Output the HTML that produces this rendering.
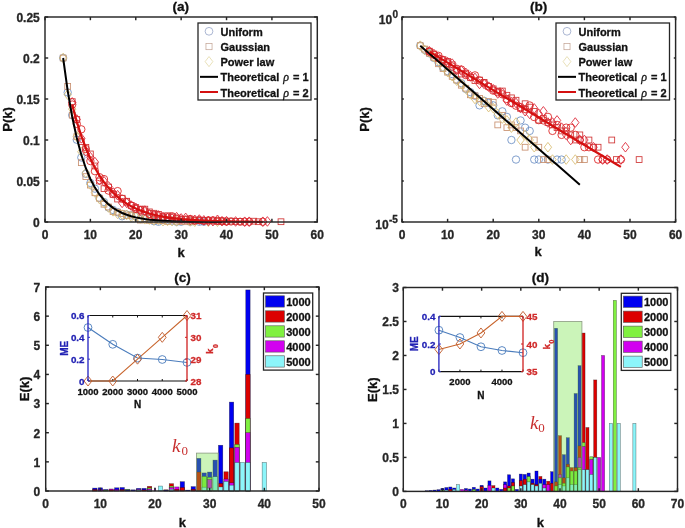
<!DOCTYPE html>
<html><head><meta charset="utf-8"><style>
html,body{margin:0;padding:0;background:#fff;width:685px;height:528px;overflow:hidden}
svg{display:block;will-change:transform}
</style></head><body>
<svg width="685" height="528" viewBox="0 0 685 528">
<rect width="685" height="528" fill="#fff"/>
<circle cx="63.15" cy="58" r="3.7" fill="none" stroke="#6b8fc4" stroke-width="0.85"/>
<circle cx="67.69" cy="92.44" r="3.7" fill="none" stroke="#6b8fc4" stroke-width="0.85"/>
<circle cx="72.23" cy="115.13" r="3.7" fill="none" stroke="#6b8fc4" stroke-width="0.85"/>
<circle cx="76.77" cy="139.73" r="3.7" fill="none" stroke="#6b8fc4" stroke-width="0.85"/>
<circle cx="81.31" cy="157.49" r="3.7" fill="none" stroke="#6b8fc4" stroke-width="0.85"/>
<circle cx="85.84" cy="173.89" r="3.7" fill="none" stroke="#6b8fc4" stroke-width="0.85"/>
<circle cx="90.38" cy="182.91" r="3.7" fill="none" stroke="#6b8fc4" stroke-width="0.85"/>
<circle cx="94.92" cy="188.65" r="3.7" fill="none" stroke="#6b8fc4" stroke-width="0.85"/>
<circle cx="99.46" cy="197.95" r="3.7" fill="none" stroke="#6b8fc4" stroke-width="0.85"/>
<circle cx="104" cy="202.05" r="3.7" fill="none" stroke="#6b8fc4" stroke-width="0.85"/>
<circle cx="108.54" cy="207.51" r="3.7" fill="none" stroke="#6b8fc4" stroke-width="0.85"/>
<circle cx="113.08" cy="209.97" r="3.7" fill="none" stroke="#6b8fc4" stroke-width="0.85"/>
<circle cx="117.61" cy="212.16" r="3.7" fill="none" stroke="#6b8fc4" stroke-width="0.85"/>
<circle cx="122.15" cy="216.26" r="3.7" fill="none" stroke="#6b8fc4" stroke-width="0.85"/>
<circle cx="126.69" cy="214.62" r="3.7" fill="none" stroke="#6b8fc4" stroke-width="0.85"/>
<circle cx="131.23" cy="215.44" r="3.7" fill="none" stroke="#6b8fc4" stroke-width="0.85"/>
<circle cx="135.77" cy="216.26" r="3.7" fill="none" stroke="#6b8fc4" stroke-width="0.85"/>
<circle cx="140.31" cy="218.72" r="3.7" fill="none" stroke="#6b8fc4" stroke-width="0.85"/>
<circle cx="144.84" cy="217.9" r="3.7" fill="none" stroke="#6b8fc4" stroke-width="0.85"/>
<circle cx="149.38" cy="218.99" r="3.7" fill="none" stroke="#6b8fc4" stroke-width="0.85"/>
<circle cx="153.92" cy="221.18" r="3.7" fill="none" stroke="#6b8fc4" stroke-width="0.85"/>
<circle cx="158.46" cy="221.73" r="3.7" fill="none" stroke="#6b8fc4" stroke-width="0.85"/>
<circle cx="163" cy="219.54" r="3.7" fill="none" stroke="#6b8fc4" stroke-width="0.85"/>
<circle cx="167.54" cy="220.36" r="3.7" fill="none" stroke="#6b8fc4" stroke-width="0.85"/>
<circle cx="172.07" cy="220.63" r="3.7" fill="none" stroke="#6b8fc4" stroke-width="0.85"/>
<circle cx="176.61" cy="221.73" r="3.7" fill="none" stroke="#6b8fc4" stroke-width="0.85"/>
<circle cx="181.15" cy="221.73" r="3.7" fill="none" stroke="#6b8fc4" stroke-width="0.85"/>
<circle cx="190.23" cy="221.73" r="3.7" fill="none" stroke="#6b8fc4" stroke-width="0.85"/>
<circle cx="199.3" cy="221.73" r="3.7" fill="none" stroke="#6b8fc4" stroke-width="0.85"/>
<circle cx="203.84" cy="221.73" r="3.7" fill="none" stroke="#6b8fc4" stroke-width="0.85"/>
<rect x="60.25" y="55.1" width="5.8" height="5.8" fill="none" stroke="#c89070" stroke-width="0.85"/>
<rect x="64.79" y="83.53" width="5.8" height="5.8" fill="none" stroke="#c89070" stroke-width="0.85"/>
<rect x="69.33" y="112.23" width="5.8" height="5.8" fill="none" stroke="#c89070" stroke-width="0.85"/>
<rect x="73.87" y="133.82" width="5.8" height="5.8" fill="none" stroke="#c89070" stroke-width="0.85"/>
<rect x="78.41" y="159.79" width="5.8" height="5.8" fill="none" stroke="#c89070" stroke-width="0.85"/>
<rect x="82.94" y="173.73" width="5.8" height="5.8" fill="none" stroke="#c89070" stroke-width="0.85"/>
<rect x="87.48" y="182.2" width="5.8" height="5.8" fill="none" stroke="#c89070" stroke-width="0.85"/>
<rect x="92.02" y="189.85" width="5.8" height="5.8" fill="none" stroke="#c89070" stroke-width="0.85"/>
<rect x="96.56" y="195.32" width="5.8" height="5.8" fill="none" stroke="#c89070" stroke-width="0.85"/>
<rect x="101.1" y="201.33" width="5.8" height="5.8" fill="none" stroke="#c89070" stroke-width="0.85"/>
<rect x="105.64" y="204.07" width="5.8" height="5.8" fill="none" stroke="#c89070" stroke-width="0.85"/>
<rect x="110.17" y="208.71" width="5.8" height="5.8" fill="none" stroke="#c89070" stroke-width="0.85"/>
<rect x="114.71" y="209.26" width="5.8" height="5.8" fill="none" stroke="#c89070" stroke-width="0.85"/>
<rect x="119.25" y="210.63" width="5.8" height="5.8" fill="none" stroke="#c89070" stroke-width="0.85"/>
<rect x="123.79" y="212.81" width="5.8" height="5.8" fill="none" stroke="#c89070" stroke-width="0.85"/>
<rect x="128.33" y="211.99" width="5.8" height="5.8" fill="none" stroke="#c89070" stroke-width="0.85"/>
<rect x="132.87" y="212.27" width="5.8" height="5.8" fill="none" stroke="#c89070" stroke-width="0.85"/>
<rect x="137.41" y="217.19" width="5.8" height="5.8" fill="none" stroke="#c89070" stroke-width="0.85"/>
<rect x="141.94" y="215.82" width="5.8" height="5.8" fill="none" stroke="#c89070" stroke-width="0.85"/>
<rect x="146.48" y="217.46" width="5.8" height="5.8" fill="none" stroke="#c89070" stroke-width="0.85"/>
<rect x="151.02" y="217.19" width="5.8" height="5.8" fill="none" stroke="#c89070" stroke-width="0.85"/>
<rect x="155.56" y="217.46" width="5.8" height="5.8" fill="none" stroke="#c89070" stroke-width="0.85"/>
<rect x="160.1" y="217.73" width="5.8" height="5.8" fill="none" stroke="#c89070" stroke-width="0.85"/>
<rect x="164.64" y="218.55" width="5.8" height="5.8" fill="none" stroke="#c89070" stroke-width="0.85"/>
<rect x="173.71" y="218.28" width="5.8" height="5.8" fill="none" stroke="#c89070" stroke-width="0.85"/>
<rect x="178.25" y="218.55" width="5.8" height="5.8" fill="none" stroke="#c89070" stroke-width="0.85"/>
<rect x="182.79" y="218.83" width="5.8" height="5.8" fill="none" stroke="#c89070" stroke-width="0.85"/>
<rect x="187.33" y="218.83" width="5.8" height="5.8" fill="none" stroke="#c89070" stroke-width="0.85"/>
<rect x="219.09" y="218.83" width="5.8" height="5.8" fill="none" stroke="#c89070" stroke-width="0.85"/>
<rect x="223.63" y="218.83" width="5.8" height="5.8" fill="none" stroke="#c89070" stroke-width="0.85"/>
<path d="M63.15 53.2L66.85 58L63.15 62.8L59.45 58Z" fill="none" stroke="#d8bc70" stroke-width="0.85"/>
<path d="M67.69 89.83L71.39 94.63L67.69 99.43L63.99 94.63Z" fill="none" stroke="#d8bc70" stroke-width="0.85"/>
<path d="M72.23 104.31L75.93 109.11L72.23 113.91L68.53 109.11Z" fill="none" stroke="#d8bc70" stroke-width="0.85"/>
<path d="M76.77 131.65L80.47 136.45L76.77 141.25L73.07 136.45Z" fill="none" stroke="#d8bc70" stroke-width="0.85"/>
<path d="M81.31 146.95L85.01 151.75L81.31 156.55L77.61 151.75Z" fill="none" stroke="#d8bc70" stroke-width="0.85"/>
<path d="M85.84 168L89.55 172.8L85.84 177.6L82.14 172.8Z" fill="none" stroke="#d8bc70" stroke-width="0.85"/>
<path d="M90.38 179.75L94.08 184.55L90.38 189.35L86.68 184.55Z" fill="none" stroke="#d8bc70" stroke-width="0.85"/>
<path d="M94.92 187.68L98.62 192.48L94.92 197.28L91.22 192.48Z" fill="none" stroke="#d8bc70" stroke-width="0.85"/>
<path d="M99.46 194.24L103.16 199.04L99.46 203.84L95.76 199.04Z" fill="none" stroke="#d8bc70" stroke-width="0.85"/>
<path d="M104 198.07L107.7 202.87L104 207.67L100.3 202.87Z" fill="none" stroke="#d8bc70" stroke-width="0.85"/>
<path d="M108.54 202.71L112.24 207.51L108.54 212.31L104.84 207.51Z" fill="none" stroke="#d8bc70" stroke-width="0.85"/>
<path d="M113.08 206.54L116.78 211.34L113.08 216.14L109.38 211.34Z" fill="none" stroke="#d8bc70" stroke-width="0.85"/>
<path d="M117.61 209L121.31 213.8L117.61 218.6L113.91 213.8Z" fill="none" stroke="#d8bc70" stroke-width="0.85"/>
<path d="M122.15 209.82L125.85 214.62L122.15 219.42L118.45 214.62Z" fill="none" stroke="#d8bc70" stroke-width="0.85"/>
<path d="M126.69 210.09L130.39 214.89L126.69 219.69L122.99 214.89Z" fill="none" stroke="#d8bc70" stroke-width="0.85"/>
<path d="M131.23 212.01L134.93 216.81L131.23 221.61L127.53 216.81Z" fill="none" stroke="#d8bc70" stroke-width="0.85"/>
<path d="M135.77 212.28L139.47 217.08L135.77 221.88L132.07 217.08Z" fill="none" stroke="#d8bc70" stroke-width="0.85"/>
<path d="M140.31 213.65L144 218.45L140.31 223.25L136.61 218.45Z" fill="none" stroke="#d8bc70" stroke-width="0.85"/>
<path d="M144.84 214.47L148.54 219.27L144.84 224.07L141.14 219.27Z" fill="none" stroke="#d8bc70" stroke-width="0.85"/>
<path d="M149.38 214.74L153.08 219.54L149.38 224.34L145.68 219.54Z" fill="none" stroke="#d8bc70" stroke-width="0.85"/>
<path d="M153.92 215.56L157.62 220.36L153.92 225.16L150.22 220.36Z" fill="none" stroke="#d8bc70" stroke-width="0.85"/>
<path d="M158.46 215.01L162.16 219.81L158.46 224.61L154.76 219.81Z" fill="none" stroke="#d8bc70" stroke-width="0.85"/>
<path d="M163 216.38L166.7 221.18L163 225.98L159.3 221.18Z" fill="none" stroke="#d8bc70" stroke-width="0.85"/>
<path d="M167.54 216.11L171.24 220.91L167.54 225.71L163.84 220.91Z" fill="none" stroke="#d8bc70" stroke-width="0.85"/>
<path d="M172.07 216.38L175.77 221.18L172.07 225.98L168.37 221.18Z" fill="none" stroke="#d8bc70" stroke-width="0.85"/>
<path d="M176.61 216.65L180.31 221.45L176.61 226.25L172.91 221.45Z" fill="none" stroke="#d8bc70" stroke-width="0.85"/>
<path d="M190.23 216.65L193.93 221.45L190.23 226.25L186.53 221.45Z" fill="none" stroke="#d8bc70" stroke-width="0.85"/>
<path d="M194.77 216.93L198.47 221.73L194.77 226.53L191.07 221.73Z" fill="none" stroke="#d8bc70" stroke-width="0.85"/>
<path d="M208.38 216.93L212.08 221.73L208.38 226.53L204.68 221.73Z" fill="none" stroke="#d8bc70" stroke-width="0.85"/>
<path d="M217.46 216.93L221.16 221.73L217.46 226.53L213.76 221.73Z" fill="none" stroke="#d8bc70" stroke-width="0.85"/>
<circle cx="72.23" cy="104.55" r="3.7" fill="none" stroke="#dc1c1c" stroke-width="0.85"/>
<circle cx="76.77" cy="123.87" r="3.7" fill="none" stroke="#dc1c1c" stroke-width="0.85"/>
<circle cx="81.31" cy="129.34" r="3.7" fill="none" stroke="#dc1c1c" stroke-width="0.85"/>
<circle cx="85.84" cy="149.02" r="3.7" fill="none" stroke="#dc1c1c" stroke-width="0.85"/>
<circle cx="90.38" cy="161.05" r="3.7" fill="none" stroke="#dc1c1c" stroke-width="0.85"/>
<circle cx="94.92" cy="171.16" r="3.7" fill="none" stroke="#dc1c1c" stroke-width="0.85"/>
<circle cx="99.46" cy="177.17" r="3.7" fill="none" stroke="#dc1c1c" stroke-width="0.85"/>
<circle cx="104" cy="179.09" r="3.7" fill="none" stroke="#dc1c1c" stroke-width="0.85"/>
<circle cx="108.54" cy="190.57" r="3.7" fill="none" stroke="#dc1c1c" stroke-width="0.85"/>
<circle cx="113.08" cy="194.12" r="3.7" fill="none" stroke="#dc1c1c" stroke-width="0.85"/>
<circle cx="117.61" cy="191.11" r="3.7" fill="none" stroke="#dc1c1c" stroke-width="0.85"/>
<circle cx="122.15" cy="198.77" r="3.7" fill="none" stroke="#dc1c1c" stroke-width="0.85"/>
<circle cx="126.69" cy="202.05" r="3.7" fill="none" stroke="#dc1c1c" stroke-width="0.85"/>
<circle cx="131.23" cy="205.6" r="3.7" fill="none" stroke="#dc1c1c" stroke-width="0.85"/>
<circle cx="135.77" cy="208.88" r="3.7" fill="none" stroke="#dc1c1c" stroke-width="0.85"/>
<circle cx="140.31" cy="209.97" r="3.7" fill="none" stroke="#dc1c1c" stroke-width="0.85"/>
<circle cx="144.84" cy="211.34" r="3.7" fill="none" stroke="#dc1c1c" stroke-width="0.85"/>
<circle cx="149.38" cy="213.8" r="3.7" fill="none" stroke="#dc1c1c" stroke-width="0.85"/>
<circle cx="153.92" cy="215.49" r="3.7" fill="none" stroke="#dc1c1c" stroke-width="0.85"/>
<circle cx="158.46" cy="216.37" r="3.7" fill="none" stroke="#dc1c1c" stroke-width="0.85"/>
<circle cx="163" cy="216.81" r="3.7" fill="none" stroke="#dc1c1c" stroke-width="0.85"/>
<circle cx="167.54" cy="217.35" r="3.7" fill="none" stroke="#dc1c1c" stroke-width="0.85"/>
<circle cx="172.07" cy="216.29" r="3.7" fill="none" stroke="#dc1c1c" stroke-width="0.85"/>
<circle cx="176.61" cy="219.03" r="3.7" fill="none" stroke="#dc1c1c" stroke-width="0.85"/>
<circle cx="181.15" cy="219.5" r="3.7" fill="none" stroke="#dc1c1c" stroke-width="0.85"/>
<circle cx="185.69" cy="219.54" r="3.7" fill="none" stroke="#dc1c1c" stroke-width="0.85"/>
<circle cx="190.23" cy="218.99" r="3.7" fill="none" stroke="#dc1c1c" stroke-width="0.85"/>
<circle cx="194.77" cy="220.63" r="3.7" fill="none" stroke="#dc1c1c" stroke-width="0.85"/>
<circle cx="199.3" cy="220.09" r="3.7" fill="none" stroke="#dc1c1c" stroke-width="0.85"/>
<circle cx="203.84" cy="220.91" r="3.7" fill="none" stroke="#dc1c1c" stroke-width="0.85"/>
<circle cx="208.38" cy="220.36" r="3.7" fill="none" stroke="#dc1c1c" stroke-width="0.85"/>
<circle cx="212.92" cy="220.36" r="3.7" fill="none" stroke="#dc1c1c" stroke-width="0.85"/>
<circle cx="217.46" cy="220.91" r="3.7" fill="none" stroke="#dc1c1c" stroke-width="0.85"/>
<circle cx="222" cy="221.18" r="3.7" fill="none" stroke="#dc1c1c" stroke-width="0.85"/>
<circle cx="226.53" cy="221.45" r="3.7" fill="none" stroke="#dc1c1c" stroke-width="0.85"/>
<circle cx="231.07" cy="221.45" r="3.7" fill="none" stroke="#dc1c1c" stroke-width="0.85"/>
<circle cx="240.15" cy="221.73" r="3.7" fill="none" stroke="#dc1c1c" stroke-width="0.85"/>
<circle cx="244.69" cy="221.73" r="3.7" fill="none" stroke="#dc1c1c" stroke-width="0.85"/>
<circle cx="249.23" cy="221.73" r="3.7" fill="none" stroke="#dc1c1c" stroke-width="0.85"/>
<circle cx="262.84" cy="221.73" r="3.7" fill="none" stroke="#dc1c1c" stroke-width="0.85"/>
<rect x="69.33" y="98.77" width="5.8" height="5.8" fill="none" stroke="#d03434" stroke-width="0.85"/>
<rect x="73.87" y="116.6" width="5.8" height="5.8" fill="none" stroke="#d03434" stroke-width="0.85"/>
<rect x="78.41" y="138.74" width="5.8" height="5.8" fill="none" stroke="#d03434" stroke-width="0.85"/>
<rect x="82.94" y="144.48" width="5.8" height="5.8" fill="none" stroke="#d03434" stroke-width="0.85"/>
<rect x="87.48" y="151.04" width="5.8" height="5.8" fill="none" stroke="#d03434" stroke-width="0.85"/>
<rect x="92.02" y="163.07" width="5.8" height="5.8" fill="none" stroke="#d03434" stroke-width="0.85"/>
<rect x="96.56" y="178.1" width="5.8" height="5.8" fill="none" stroke="#d03434" stroke-width="0.85"/>
<rect x="101.1" y="185.75" width="5.8" height="5.8" fill="none" stroke="#d03434" stroke-width="0.85"/>
<rect x="105.64" y="184.11" width="5.8" height="5.8" fill="none" stroke="#d03434" stroke-width="0.85"/>
<rect x="110.17" y="191.49" width="5.8" height="5.8" fill="none" stroke="#d03434" stroke-width="0.85"/>
<rect x="114.71" y="196.14" width="5.8" height="5.8" fill="none" stroke="#d03434" stroke-width="0.85"/>
<rect x="119.25" y="195.32" width="5.8" height="5.8" fill="none" stroke="#d03434" stroke-width="0.85"/>
<rect x="123.79" y="198.33" width="5.8" height="5.8" fill="none" stroke="#d03434" stroke-width="0.85"/>
<rect x="128.33" y="202.43" width="5.8" height="5.8" fill="none" stroke="#d03434" stroke-width="0.85"/>
<rect x="132.87" y="204.61" width="5.8" height="5.8" fill="none" stroke="#d03434" stroke-width="0.85"/>
<rect x="137.41" y="206.25" width="5.8" height="5.8" fill="none" stroke="#d03434" stroke-width="0.85"/>
<rect x="141.94" y="206.25" width="5.8" height="5.8" fill="none" stroke="#d03434" stroke-width="0.85"/>
<rect x="146.48" y="208.99" width="5.8" height="5.8" fill="none" stroke="#d03434" stroke-width="0.85"/>
<rect x="151.02" y="210.35" width="5.8" height="5.8" fill="none" stroke="#d03434" stroke-width="0.85"/>
<rect x="155.56" y="211.45" width="5.8" height="5.8" fill="none" stroke="#d03434" stroke-width="0.85"/>
<rect x="160.1" y="214.26" width="5.8" height="5.8" fill="none" stroke="#d03434" stroke-width="0.85"/>
<rect x="164.64" y="212.81" width="5.8" height="5.8" fill="none" stroke="#d03434" stroke-width="0.85"/>
<rect x="169.17" y="213.91" width="5.8" height="5.8" fill="none" stroke="#d03434" stroke-width="0.85"/>
<rect x="173.71" y="215" width="5.8" height="5.8" fill="none" stroke="#d03434" stroke-width="0.85"/>
<rect x="178.25" y="216.6" width="5.8" height="5.8" fill="none" stroke="#d03434" stroke-width="0.85"/>
<rect x="182.79" y="216.37" width="5.8" height="5.8" fill="none" stroke="#d03434" stroke-width="0.85"/>
<rect x="187.33" y="216.91" width="5.8" height="5.8" fill="none" stroke="#d03434" stroke-width="0.85"/>
<rect x="191.87" y="217.19" width="5.8" height="5.8" fill="none" stroke="#d03434" stroke-width="0.85"/>
<rect x="196.4" y="217.46" width="5.8" height="5.8" fill="none" stroke="#d03434" stroke-width="0.85"/>
<rect x="200.94" y="217.73" width="5.8" height="5.8" fill="none" stroke="#d03434" stroke-width="0.85"/>
<rect x="205.48" y="217.73" width="5.8" height="5.8" fill="none" stroke="#d03434" stroke-width="0.85"/>
<rect x="210.02" y="218.01" width="5.8" height="5.8" fill="none" stroke="#d03434" stroke-width="0.85"/>
<rect x="214.56" y="218.28" width="5.8" height="5.8" fill="none" stroke="#d03434" stroke-width="0.85"/>
<rect x="219.09" y="218.01" width="5.8" height="5.8" fill="none" stroke="#d03434" stroke-width="0.85"/>
<rect x="228.17" y="218.28" width="5.8" height="5.8" fill="none" stroke="#d03434" stroke-width="0.85"/>
<rect x="232.71" y="218.55" width="5.8" height="5.8" fill="none" stroke="#d03434" stroke-width="0.85"/>
<rect x="237.25" y="218.55" width="5.8" height="5.8" fill="none" stroke="#d03434" stroke-width="0.85"/>
<rect x="250.86" y="218.28" width="5.8" height="5.8" fill="none" stroke="#d03434" stroke-width="0.85"/>
<rect x="255.4" y="218.83" width="5.8" height="5.8" fill="none" stroke="#d03434" stroke-width="0.85"/>
<rect x="278.09" y="218.83" width="5.8" height="5.8" fill="none" stroke="#d03434" stroke-width="0.85"/>
<path d="M72.23 97.6L75.93 102.4L72.23 107.2L68.53 102.4Z" fill="none" stroke="#dc2030" stroke-width="0.85"/>
<path d="M76.77 114.7L80.47 119.5L76.77 124.3L73.07 119.5Z" fill="none" stroke="#dc2030" stroke-width="0.85"/>
<path d="M81.31 133.56L85.01 138.36L81.31 143.16L77.61 138.36Z" fill="none" stroke="#dc2030" stroke-width="0.85"/>
<path d="M85.84 146.41L89.55 151.21L85.84 156.01L82.14 151.21Z" fill="none" stroke="#dc2030" stroke-width="0.85"/>
<path d="M90.38 152.42L94.08 157.22L90.38 162.02L86.68 157.22Z" fill="none" stroke="#dc2030" stroke-width="0.85"/>
<path d="M94.92 157.34L98.62 162.14L94.92 166.94L91.22 162.14Z" fill="none" stroke="#dc2030" stroke-width="0.85"/>
<path d="M99.46 175.38L103.16 180.18L99.46 184.98L95.76 180.18Z" fill="none" stroke="#dc2030" stroke-width="0.85"/>
<path d="M104 176.47L107.7 181.27L104 186.07L100.3 181.27Z" fill="none" stroke="#dc2030" stroke-width="0.85"/>
<path d="M108.54 181.67L112.24 186.47L108.54 191.27L104.84 186.47Z" fill="none" stroke="#dc2030" stroke-width="0.85"/>
<path d="M113.08 187.68L116.78 192.48L113.08 197.28L109.38 192.48Z" fill="none" stroke="#dc2030" stroke-width="0.85"/>
<path d="M117.61 190.41L121.31 195.21L117.61 200.01L113.91 195.21Z" fill="none" stroke="#dc2030" stroke-width="0.85"/>
<path d="M122.15 198.07L125.85 202.87L122.15 207.67L118.45 202.87Z" fill="none" stroke="#dc2030" stroke-width="0.85"/>
<path d="M126.69 198.07L130.39 202.87L126.69 207.67L122.99 202.87Z" fill="none" stroke="#dc2030" stroke-width="0.85"/>
<path d="M131.23 200.8L134.93 205.6L131.23 210.4L127.53 205.6Z" fill="none" stroke="#dc2030" stroke-width="0.85"/>
<path d="M135.77 202.99L139.47 207.79L135.77 212.59L132.07 207.79Z" fill="none" stroke="#dc2030" stroke-width="0.85"/>
<path d="M140.31 205.99L144 210.79L140.31 215.59L136.61 210.79Z" fill="none" stroke="#dc2030" stroke-width="0.85"/>
<path d="M144.84 205.72L148.54 210.52L144.84 215.32L141.14 210.52Z" fill="none" stroke="#dc2030" stroke-width="0.85"/>
<path d="M149.38 209.71L153.08 214.51L149.38 219.31L145.68 214.51Z" fill="none" stroke="#dc2030" stroke-width="0.85"/>
<path d="M153.92 210.37L157.62 215.17L153.92 219.97L150.22 215.17Z" fill="none" stroke="#dc2030" stroke-width="0.85"/>
<path d="M158.46 210.64L162.16 215.44L158.46 220.24L154.76 215.44Z" fill="none" stroke="#dc2030" stroke-width="0.85"/>
<path d="M163 212.28L166.7 217.08L163 221.88L159.3 217.08Z" fill="none" stroke="#dc2030" stroke-width="0.85"/>
<path d="M167.54 213.06L171.24 217.86L167.54 222.66L163.84 217.86Z" fill="none" stroke="#dc2030" stroke-width="0.85"/>
<path d="M172.07 213.65L175.77 218.45L172.07 223.25L168.37 218.45Z" fill="none" stroke="#dc2030" stroke-width="0.85"/>
<path d="M176.61 212.38L180.31 217.18L176.61 221.98L172.91 217.18Z" fill="none" stroke="#dc2030" stroke-width="0.85"/>
<path d="M181.15 213.65L184.85 218.45L181.15 223.25L177.45 218.45Z" fill="none" stroke="#dc2030" stroke-width="0.85"/>
<path d="M185.69 213.1L189.39 217.9L185.69 222.7L181.99 217.9Z" fill="none" stroke="#dc2030" stroke-width="0.85"/>
<path d="M190.23 215.01L193.93 219.81L190.23 224.61L186.53 219.81Z" fill="none" stroke="#dc2030" stroke-width="0.85"/>
<path d="M194.77 215.01L198.47 219.81L194.77 224.61L191.07 219.81Z" fill="none" stroke="#dc2030" stroke-width="0.85"/>
<path d="M199.3 214.74L203 219.54L199.3 224.34L195.6 219.54Z" fill="none" stroke="#dc2030" stroke-width="0.85"/>
<path d="M203.84 215.56L207.54 220.36L203.84 225.16L200.14 220.36Z" fill="none" stroke="#dc2030" stroke-width="0.85"/>
<path d="M208.38 216.11L212.08 220.91L208.38 225.71L204.68 220.91Z" fill="none" stroke="#dc2030" stroke-width="0.85"/>
<path d="M212.92 216.38L216.62 221.18L212.92 225.98L209.22 221.18Z" fill="none" stroke="#dc2030" stroke-width="0.85"/>
<path d="M217.46 215.01L221.16 219.81L217.46 224.61L213.76 219.81Z" fill="none" stroke="#dc2030" stroke-width="0.85"/>
<path d="M222 216.38L225.69 221.18L222 225.98L218.3 221.18Z" fill="none" stroke="#dc2030" stroke-width="0.85"/>
<path d="M226.53 216.38L230.23 221.18L226.53 225.98L222.83 221.18Z" fill="none" stroke="#dc2030" stroke-width="0.85"/>
<path d="M235.61 216.65L239.31 221.45L235.61 226.25L231.91 221.45Z" fill="none" stroke="#dc2030" stroke-width="0.85"/>
<path d="M244.69 216.93L248.39 221.73L244.69 226.53L240.99 221.73Z" fill="none" stroke="#dc2030" stroke-width="0.85"/>
<path d="M249.23 216.93L252.93 221.73L249.23 226.53L245.53 221.73Z" fill="none" stroke="#dc2030" stroke-width="0.85"/>
<path d="M262.84 216.93L266.54 221.73L262.84 226.53L259.14 221.73Z" fill="none" stroke="#dc2030" stroke-width="0.85"/>
<path d="M267.38 216.65L271.08 221.45L267.38 226.25L263.68 221.45Z" fill="none" stroke="#dc2030" stroke-width="0.85"/>
<path d="M63.15 58 L67.69 90.8 L72.23 117.04 L76.77 138.03 L81.31 154.83 L85.84 168.26 L90.38 179.01 L94.92 187.61 L99.46 194.49 L104 199.99 L108.54 204.39 L113.08 207.91 L117.61 210.73 L122.15 212.98 L126.69 214.79 L131.23 216.23 L135.77 217.38 L140.31 218.31 L144.84 219.05 L149.38 219.64 L153.92 220.11 L158.46 220.49 L163 220.79 L167.54 221.03 L172.07 221.23 L176.61 221.38 L181.15 221.5 L185.69 221.6 L190.23 221.68 L194.77 221.75 L199.3 221.8 L203.84 221.84 L208.38 221.87 L212.92 221.9 L217.46 221.92 L222 221.93" fill="none" stroke="#000" stroke-width="2"/>
<path d="M72.23 104.86 L76.77 121.59 L81.31 135.94 L85.84 148.23 L90.38 158.77 L94.92 167.8 L99.46 175.54 L104 182.18 L108.54 187.87 L113.08 192.75 L117.61 196.92 L122.15 200.51 L126.69 203.58 L131.23 206.21 L135.77 208.46 L140.31 210.4 L144.84 212.06 L149.38 213.48 L153.92 214.69 L158.46 215.74 L163 216.63 L167.54 217.4 L172.07 218.06 L176.61 218.62 L181.15 219.1 L185.69 219.52 L190.23 219.87 L194.77 220.18 L199.3 220.44 L203.84 220.66 L208.38 220.85 L212.92 221.02 L217.46 221.16 L222 221.28 L226.53 221.38 L231.07 221.47 L235.61 221.54 L240.15 221.61 L244.69 221.67 L249.23 221.71 L253.76 221.75 L258.3 221.79 L262.84 221.82" fill="none" stroke="#d41010" stroke-width="2.2"/>
<line x1="45" y1="222" x2="45" y2="218.8" stroke="#262626" stroke-width="1.45" />
<line x1="45" y1="17" x2="45" y2="20.2" stroke="#262626" stroke-width="1.45" />
<line x1="90.38" y1="222" x2="90.38" y2="218.8" stroke="#262626" stroke-width="1.45" />
<line x1="90.38" y1="17" x2="90.38" y2="20.2" stroke="#262626" stroke-width="1.45" />
<line x1="135.77" y1="222" x2="135.77" y2="218.8" stroke="#262626" stroke-width="1.45" />
<line x1="135.77" y1="17" x2="135.77" y2="20.2" stroke="#262626" stroke-width="1.45" />
<line x1="181.15" y1="222" x2="181.15" y2="218.8" stroke="#262626" stroke-width="1.45" />
<line x1="181.15" y1="17" x2="181.15" y2="20.2" stroke="#262626" stroke-width="1.45" />
<line x1="226.53" y1="222" x2="226.53" y2="218.8" stroke="#262626" stroke-width="1.45" />
<line x1="226.53" y1="17" x2="226.53" y2="20.2" stroke="#262626" stroke-width="1.45" />
<line x1="271.92" y1="222" x2="271.92" y2="218.8" stroke="#262626" stroke-width="1.45" />
<line x1="271.92" y1="17" x2="271.92" y2="20.2" stroke="#262626" stroke-width="1.45" />
<line x1="317.3" y1="222" x2="317.3" y2="218.8" stroke="#262626" stroke-width="1.45" />
<line x1="317.3" y1="17" x2="317.3" y2="20.2" stroke="#262626" stroke-width="1.45" />
<line x1="45" y1="222" x2="48.2" y2="222" stroke="#262626" stroke-width="1.45" />
<line x1="317.3" y1="222" x2="314.1" y2="222" stroke="#262626" stroke-width="1.45" />
<line x1="45" y1="181" x2="48.2" y2="181" stroke="#262626" stroke-width="1.45" />
<line x1="317.3" y1="181" x2="314.1" y2="181" stroke="#262626" stroke-width="1.45" />
<line x1="45" y1="140" x2="48.2" y2="140" stroke="#262626" stroke-width="1.45" />
<line x1="317.3" y1="140" x2="314.1" y2="140" stroke="#262626" stroke-width="1.45" />
<line x1="45" y1="99" x2="48.2" y2="99" stroke="#262626" stroke-width="1.45" />
<line x1="317.3" y1="99" x2="314.1" y2="99" stroke="#262626" stroke-width="1.45" />
<line x1="45" y1="58" x2="48.2" y2="58" stroke="#262626" stroke-width="1.45" />
<line x1="317.3" y1="58" x2="314.1" y2="58" stroke="#262626" stroke-width="1.45" />
<line x1="45" y1="17" x2="48.2" y2="17" stroke="#262626" stroke-width="1.45" />
<line x1="317.3" y1="17" x2="314.1" y2="17" stroke="#262626" stroke-width="1.45" />
<rect x="45" y="17" width="272.3" height="205" fill="none" stroke="#262626" stroke-width="1.45" />
<text x="45" y="238.8" font-size="12" text-anchor="middle" font-weight="bold" fill="#262626" stroke="#262626" stroke-width="0.3" font-family='"Liberation Sans", sans-serif' >0</text>
<text x="90.38" y="238.8" font-size="12" text-anchor="middle" font-weight="bold" fill="#262626" stroke="#262626" stroke-width="0.3" font-family='"Liberation Sans", sans-serif' >10</text>
<text x="135.77" y="238.8" font-size="12" text-anchor="middle" font-weight="bold" fill="#262626" stroke="#262626" stroke-width="0.3" font-family='"Liberation Sans", sans-serif' >20</text>
<text x="181.15" y="238.8" font-size="12" text-anchor="middle" font-weight="bold" fill="#262626" stroke="#262626" stroke-width="0.3" font-family='"Liberation Sans", sans-serif' >30</text>
<text x="226.53" y="238.8" font-size="12" text-anchor="middle" font-weight="bold" fill="#262626" stroke="#262626" stroke-width="0.3" font-family='"Liberation Sans", sans-serif' >40</text>
<text x="271.92" y="238.8" font-size="12" text-anchor="middle" font-weight="bold" fill="#262626" stroke="#262626" stroke-width="0.3" font-family='"Liberation Sans", sans-serif' >50</text>
<text x="317.3" y="238.8" font-size="12" text-anchor="middle" font-weight="bold" fill="#262626" stroke="#262626" stroke-width="0.3" font-family='"Liberation Sans", sans-serif' >60</text>
<text x="39.8" y="227.1" font-size="12" text-anchor="end" font-weight="bold" fill="#262626" stroke="#262626" stroke-width="0.3" font-family='"Liberation Sans", sans-serif' >0</text>
<text x="39.8" y="186.1" font-size="12" text-anchor="end" font-weight="bold" fill="#262626" stroke="#262626" stroke-width="0.3" font-family='"Liberation Sans", sans-serif' >0.05</text>
<text x="39.8" y="145.1" font-size="12" text-anchor="end" font-weight="bold" fill="#262626" stroke="#262626" stroke-width="0.3" font-family='"Liberation Sans", sans-serif' >0.1</text>
<text x="39.8" y="104.1" font-size="12" text-anchor="end" font-weight="bold" fill="#262626" stroke="#262626" stroke-width="0.3" font-family='"Liberation Sans", sans-serif' >0.15</text>
<text x="39.8" y="63.1" font-size="12" text-anchor="end" font-weight="bold" fill="#262626" stroke="#262626" stroke-width="0.3" font-family='"Liberation Sans", sans-serif' >0.2</text>
<text x="39.8" y="22.1" font-size="12" text-anchor="end" font-weight="bold" fill="#262626" stroke="#262626" stroke-width="0.3" font-family='"Liberation Sans", sans-serif' >0.25</text>
<text x="180.8" y="11.3" font-size="13.6" text-anchor="middle" font-weight="bold" fill="#111" stroke="#111" stroke-width="0.3" font-family='"Liberation Sans", sans-serif' >(a)</text>
<text x="181" y="256.8" font-size="13" text-anchor="middle" font-weight="bold" fill="#111" stroke="#111" stroke-width="0.3" font-family='"Liberation Sans", sans-serif' >k</text>
<text x="11.5" y="119.5" font-size="13" text-anchor="middle" font-weight="bold" fill="#111" stroke="#111" stroke-width="0.3" font-family='"Liberation Sans", sans-serif' transform="rotate(-90 11.5 119.5)">P(k)</text>
<rect x="198" y="23" width="113" height="77" fill="#fff" stroke="#262626" stroke-width="1.3" />
<circle cx="209" cy="31.3" r="3.89" fill="none" stroke="#8898c0" stroke-width="0.7"/>
<rect x="205.96" y="43.6" width="6.09" height="6.09" fill="none" stroke="#c0a090" stroke-width="0.7"/>
<path d="M209 56.56L212.88 61.6L209 66.64L205.12 61.6Z" fill="none" stroke="#e0d49c" stroke-width="0.7"/>
<text x="220.5" y="35.9" font-size="11" text-anchor="start" font-weight="bold" fill="#111" stroke="#111" stroke-width="0.3" font-family='"Liberation Sans", sans-serif' >Uniform</text>
<text x="220.5" y="51.05" font-size="11" text-anchor="start" font-weight="bold" fill="#111" stroke="#111" stroke-width="0.3" font-family='"Liberation Sans", sans-serif' >Gaussian</text>
<text x="220.5" y="66.2" font-size="11" text-anchor="start" font-weight="bold" fill="#111" stroke="#111" stroke-width="0.3" font-family='"Liberation Sans", sans-serif' >Power law</text>
<line x1="200" y1="76.85" x2="218" y2="76.85" stroke="#000" stroke-width="2" />
<text x="220.5" y="81.35" font-size="11" text-anchor="start" font-weight="bold" fill="#111" stroke="#111" stroke-width="0.3" font-family='"Liberation Sans", sans-serif' >Theoretical<tspan x="283.3" font-family='"Liberation Serif", serif' font-style="italic" font-weight="normal" font-size="12">ρ</tspan><tspan x="292.9">=</tspan><tspan x="302.6">1</tspan></text>
<line x1="200" y1="92" x2="218" y2="92" stroke="#d41010" stroke-width="2" />
<text x="220.5" y="96.5" font-size="11" text-anchor="start" font-weight="bold" fill="#111" stroke="#111" stroke-width="0.3" font-family='"Liberation Sans", sans-serif' >Theoretical<tspan x="283.3" font-family='"Liberation Serif", serif' font-style="italic" font-weight="normal" font-size="12">ρ</tspan><tspan x="292.9">=</tspan><tspan x="302.6">2</tspan></text>
<circle cx="420.24" cy="45.66" r="3.7" fill="none" stroke="#6b8fc4" stroke-width="0.85"/>
<circle cx="424.8" cy="49.86" r="3.7" fill="none" stroke="#6b8fc4" stroke-width="0.85"/>
<circle cx="429.36" cy="53.28" r="3.7" fill="none" stroke="#6b8fc4" stroke-width="0.85"/>
<circle cx="433.92" cy="57.94" r="3.7" fill="none" stroke="#6b8fc4" stroke-width="0.85"/>
<circle cx="438.48" cy="62.27" r="3.7" fill="none" stroke="#6b8fc4" stroke-width="0.85"/>
<circle cx="443.04" cy="67.5" r="3.7" fill="none" stroke="#6b8fc4" stroke-width="0.85"/>
<circle cx="447.6" cy="71.19" r="3.7" fill="none" stroke="#6b8fc4" stroke-width="0.85"/>
<circle cx="452.16" cy="74.02" r="3.7" fill="none" stroke="#6b8fc4" stroke-width="0.85"/>
<circle cx="456.72" cy="79.84" r="3.7" fill="none" stroke="#6b8fc4" stroke-width="0.85"/>
<circle cx="461.28" cy="83.17" r="3.7" fill="none" stroke="#6b8fc4" stroke-width="0.85"/>
<circle cx="465.84" cy="88.87" r="3.7" fill="none" stroke="#6b8fc4" stroke-width="0.85"/>
<circle cx="470.4" cy="92.18" r="3.7" fill="none" stroke="#6b8fc4" stroke-width="0.85"/>
<circle cx="474.96" cy="95.75" r="3.7" fill="none" stroke="#6b8fc4" stroke-width="0.85"/>
<circle cx="479.52" cy="105.35" r="3.7" fill="none" stroke="#6b8fc4" stroke-width="0.85"/>
<circle cx="484.08" cy="100.88" r="3.7" fill="none" stroke="#6b8fc4" stroke-width="0.85"/>
<circle cx="488.64" cy="102.97" r="3.7" fill="none" stroke="#6b8fc4" stroke-width="0.85"/>
<circle cx="493.2" cy="105.35" r="3.7" fill="none" stroke="#6b8fc4" stroke-width="0.85"/>
<circle cx="497.76" cy="115.32" r="3.7" fill="none" stroke="#6b8fc4" stroke-width="0.85"/>
<circle cx="502.32" cy="111.34" r="3.7" fill="none" stroke="#6b8fc4" stroke-width="0.85"/>
<circle cx="506.88" cy="116.86" r="3.7" fill="none" stroke="#6b8fc4" stroke-width="0.85"/>
<circle cx="511.44" cy="140" r="3.7" fill="none" stroke="#6b8fc4" stroke-width="0.85"/>
<circle cx="516" cy="159.56" r="3.7" fill="none" stroke="#6b8fc4" stroke-width="0.85"/>
<circle cx="520.56" cy="120.44" r="3.7" fill="none" stroke="#6b8fc4" stroke-width="0.85"/>
<circle cx="525.12" cy="127.66" r="3.7" fill="none" stroke="#6b8fc4" stroke-width="0.85"/>
<circle cx="529.68" cy="130.9" r="3.7" fill="none" stroke="#6b8fc4" stroke-width="0.85"/>
<circle cx="534.24" cy="159.56" r="3.7" fill="none" stroke="#6b8fc4" stroke-width="0.85"/>
<circle cx="538.8" cy="159.56" r="3.7" fill="none" stroke="#6b8fc4" stroke-width="0.85"/>
<circle cx="547.92" cy="159.56" r="3.7" fill="none" stroke="#6b8fc4" stroke-width="0.85"/>
<circle cx="557.04" cy="159.56" r="3.7" fill="none" stroke="#6b8fc4" stroke-width="0.85"/>
<circle cx="561.6" cy="159.56" r="3.7" fill="none" stroke="#6b8fc4" stroke-width="0.85"/>
<rect x="417.34" y="42.76" width="5.8" height="5.8" fill="none" stroke="#c89070" stroke-width="0.85"/>
<rect x="421.9" y="46.15" width="5.8" height="5.8" fill="none" stroke="#c89070" stroke-width="0.85"/>
<rect x="426.46" y="50.38" width="5.8" height="5.8" fill="none" stroke="#c89070" stroke-width="0.85"/>
<rect x="431.02" y="54.4" width="5.8" height="5.8" fill="none" stroke="#c89070" stroke-width="0.85"/>
<rect x="435.58" y="60.87" width="5.8" height="5.8" fill="none" stroke="#c89070" stroke-width="0.85"/>
<rect x="440.14" y="65.64" width="5.8" height="5.8" fill="none" stroke="#c89070" stroke-width="0.85"/>
<rect x="444.7" y="69.32" width="5.8" height="5.8" fill="none" stroke="#c89070" stroke-width="0.85"/>
<rect x="449.26" y="73.46" width="5.8" height="5.8" fill="none" stroke="#c89070" stroke-width="0.85"/>
<rect x="453.82" y="77.14" width="5.8" height="5.8" fill="none" stroke="#c89070" stroke-width="0.85"/>
<rect x="458.38" y="82.33" width="5.8" height="5.8" fill="none" stroke="#c89070" stroke-width="0.85"/>
<rect x="462.94" y="85.31" width="5.8" height="5.8" fill="none" stroke="#c89070" stroke-width="0.85"/>
<rect x="467.5" y="91.89" width="5.8" height="5.8" fill="none" stroke="#c89070" stroke-width="0.85"/>
<rect x="472.06" y="92.85" width="5.8" height="5.8" fill="none" stroke="#c89070" stroke-width="0.85"/>
<rect x="476.62" y="95.52" width="5.8" height="5.8" fill="none" stroke="#c89070" stroke-width="0.85"/>
<rect x="481.18" y="100.83" width="5.8" height="5.8" fill="none" stroke="#c89070" stroke-width="0.85"/>
<rect x="485.74" y="98.65" width="5.8" height="5.8" fill="none" stroke="#c89070" stroke-width="0.85"/>
<rect x="490.3" y="99.35" width="5.8" height="5.8" fill="none" stroke="#c89070" stroke-width="0.85"/>
<rect x="494.86" y="122.01" width="5.8" height="5.8" fill="none" stroke="#c89070" stroke-width="0.85"/>
<rect x="499.42" y="112.42" width="5.8" height="5.8" fill="none" stroke="#c89070" stroke-width="0.85"/>
<rect x="503.98" y="124.76" width="5.8" height="5.8" fill="none" stroke="#c89070" stroke-width="0.85"/>
<rect x="508.54" y="122.01" width="5.8" height="5.8" fill="none" stroke="#c89070" stroke-width="0.85"/>
<rect x="513.1" y="124.76" width="5.8" height="5.8" fill="none" stroke="#c89070" stroke-width="0.85"/>
<rect x="517.66" y="128" width="5.8" height="5.8" fill="none" stroke="#c89070" stroke-width="0.85"/>
<rect x="522.22" y="144.32" width="5.8" height="5.8" fill="none" stroke="#c89070" stroke-width="0.85"/>
<rect x="531.34" y="137.1" width="5.8" height="5.8" fill="none" stroke="#c89070" stroke-width="0.85"/>
<rect x="535.9" y="144.32" width="5.8" height="5.8" fill="none" stroke="#c89070" stroke-width="0.85"/>
<rect x="540.46" y="156.66" width="5.8" height="5.8" fill="none" stroke="#c89070" stroke-width="0.85"/>
<rect x="545.02" y="156.66" width="5.8" height="5.8" fill="none" stroke="#c89070" stroke-width="0.85"/>
<rect x="576.94" y="156.66" width="5.8" height="5.8" fill="none" stroke="#c89070" stroke-width="0.85"/>
<rect x="581.5" y="156.66" width="5.8" height="5.8" fill="none" stroke="#c89070" stroke-width="0.85"/>
<path d="M420.24 40.86L423.94 45.66L420.24 50.46L416.54 45.66Z" fill="none" stroke="#d8bc70" stroke-width="0.85"/>
<path d="M424.8 45.36L428.5 50.16L424.8 54.96L421.1 50.16Z" fill="none" stroke="#d8bc70" stroke-width="0.85"/>
<path d="M429.36 47.51L433.06 52.31L429.36 57.11L425.66 52.31Z" fill="none" stroke="#d8bc70" stroke-width="0.85"/>
<path d="M433.92 52.44L437.62 57.24L433.92 62.04L430.22 57.24Z" fill="none" stroke="#d8bc70" stroke-width="0.85"/>
<path d="M438.48 55.95L442.18 60.75L438.48 65.55L434.78 60.75Z" fill="none" stroke="#d8bc70" stroke-width="0.85"/>
<path d="M443.04 62.3L446.74 67.1L443.04 71.9L439.34 67.1Z" fill="none" stroke="#d8bc70" stroke-width="0.85"/>
<path d="M447.6 67.16L451.3 71.96L447.6 76.76L443.9 71.96Z" fill="none" stroke="#d8bc70" stroke-width="0.85"/>
<path d="M452.16 71.39L455.86 76.19L452.16 80.99L448.46 76.19Z" fill="none" stroke="#d8bc70" stroke-width="0.85"/>
<path d="M456.72 75.87L460.42 80.67L456.72 85.47L453.02 80.67Z" fill="none" stroke="#d8bc70" stroke-width="0.85"/>
<path d="M461.28 79.11L464.98 83.91L461.28 88.71L457.58 83.91Z" fill="none" stroke="#d8bc70" stroke-width="0.85"/>
<path d="M465.84 84.07L469.54 88.87L465.84 93.67L462.14 88.87Z" fill="none" stroke="#d8bc70" stroke-width="0.85"/>
<path d="M470.4 89.53L474.1 94.33L470.4 99.13L466.7 94.33Z" fill="none" stroke="#d8bc70" stroke-width="0.85"/>
<path d="M474.96 94.2L478.66 99L474.96 103.8L471.26 99Z" fill="none" stroke="#d8bc70" stroke-width="0.85"/>
<path d="M479.52 96.08L483.22 100.88L479.52 105.68L475.82 100.88Z" fill="none" stroke="#d8bc70" stroke-width="0.85"/>
<path d="M484.08 96.75L487.78 101.55L484.08 106.35L480.38 101.55Z" fill="none" stroke="#d8bc70" stroke-width="0.85"/>
<path d="M488.64 102.33L492.34 107.13L488.64 111.93L484.94 107.13Z" fill="none" stroke="#d8bc70" stroke-width="0.85"/>
<path d="M493.2 103.3L496.9 108.1L493.2 112.9L489.5 108.1Z" fill="none" stroke="#d8bc70" stroke-width="0.85"/>
<path d="M497.76 109.09L501.46 113.89L497.76 118.69L494.06 113.89Z" fill="none" stroke="#d8bc70" stroke-width="0.85"/>
<path d="M502.32 113.76L506.02 118.56L502.32 123.36L498.62 118.56Z" fill="none" stroke="#d8bc70" stroke-width="0.85"/>
<path d="M506.88 115.64L510.58 120.44L506.88 125.24L503.18 120.44Z" fill="none" stroke="#d8bc70" stroke-width="0.85"/>
<path d="M511.44 122.86L515.14 127.66L511.44 132.46L507.74 127.66Z" fill="none" stroke="#d8bc70" stroke-width="0.85"/>
<path d="M516 117.74L519.7 122.54L516 127.34L512.3 122.54Z" fill="none" stroke="#d8bc70" stroke-width="0.85"/>
<path d="M520.56 135.2L524.26 140L520.56 144.8L516.86 140Z" fill="none" stroke="#d8bc70" stroke-width="0.85"/>
<path d="M525.12 130.08L528.82 134.88L525.12 139.68L521.42 134.88Z" fill="none" stroke="#d8bc70" stroke-width="0.85"/>
<path d="M529.68 135.2L533.38 140L529.68 144.8L525.98 140Z" fill="none" stroke="#d8bc70" stroke-width="0.85"/>
<path d="M534.24 142.42L537.94 147.22L534.24 152.02L530.54 147.22Z" fill="none" stroke="#d8bc70" stroke-width="0.85"/>
<path d="M547.92 142.42L551.62 147.22L547.92 152.02L544.22 147.22Z" fill="none" stroke="#d8bc70" stroke-width="0.85"/>
<path d="M552.48 154.76L556.18 159.56L552.48 164.36L548.78 159.56Z" fill="none" stroke="#d8bc70" stroke-width="0.85"/>
<path d="M566.16 154.76L569.86 159.56L566.16 164.36L562.46 159.56Z" fill="none" stroke="#d8bc70" stroke-width="0.85"/>
<path d="M575.28 154.76L578.98 159.56L575.28 164.36L571.58 159.56Z" fill="none" stroke="#d8bc70" stroke-width="0.85"/>
<circle cx="429.36" cy="51.6" r="3.7" fill="none" stroke="#dc1c1c" stroke-width="0.85"/>
<circle cx="433.92" cy="54.8" r="3.7" fill="none" stroke="#dc1c1c" stroke-width="0.85"/>
<circle cx="438.48" cy="55.82" r="3.7" fill="none" stroke="#dc1c1c" stroke-width="0.85"/>
<circle cx="443.04" cy="60.08" r="3.7" fill="none" stroke="#dc1c1c" stroke-width="0.85"/>
<circle cx="447.6" cy="63.28" r="3.7" fill="none" stroke="#dc1c1c" stroke-width="0.85"/>
<circle cx="452.16" cy="66.51" r="3.7" fill="none" stroke="#dc1c1c" stroke-width="0.85"/>
<circle cx="456.72" cy="68.75" r="3.7" fill="none" stroke="#dc1c1c" stroke-width="0.85"/>
<circle cx="461.28" cy="69.53" r="3.7" fill="none" stroke="#dc1c1c" stroke-width="0.85"/>
<circle cx="465.84" cy="75.07" r="3.7" fill="none" stroke="#dc1c1c" stroke-width="0.85"/>
<circle cx="470.4" cy="77.21" r="3.7" fill="none" stroke="#dc1c1c" stroke-width="0.85"/>
<circle cx="474.96" cy="75.39" r="3.7" fill="none" stroke="#dc1c1c" stroke-width="0.85"/>
<circle cx="479.52" cy="80.46" r="3.7" fill="none" stroke="#dc1c1c" stroke-width="0.85"/>
<circle cx="484.08" cy="83.17" r="3.7" fill="none" stroke="#dc1c1c" stroke-width="0.85"/>
<circle cx="488.64" cy="86.66" r="3.7" fill="none" stroke="#dc1c1c" stroke-width="0.85"/>
<circle cx="493.2" cy="90.63" r="3.7" fill="none" stroke="#dc1c1c" stroke-width="0.85"/>
<circle cx="497.76" cy="92.18" r="3.7" fill="none" stroke="#dc1c1c" stroke-width="0.85"/>
<circle cx="502.32" cy="94.33" r="3.7" fill="none" stroke="#dc1c1c" stroke-width="0.85"/>
<circle cx="506.88" cy="99" r="3.7" fill="none" stroke="#dc1c1c" stroke-width="0.85"/>
<circle cx="511.44" cy="103.12" r="3.7" fill="none" stroke="#dc1c1c" stroke-width="0.85"/>
<circle cx="516" cy="105.7" r="3.7" fill="none" stroke="#dc1c1c" stroke-width="0.85"/>
<circle cx="520.56" cy="107.13" r="3.7" fill="none" stroke="#dc1c1c" stroke-width="0.85"/>
<circle cx="525.12" cy="109.11" r="3.7" fill="none" stroke="#dc1c1c" stroke-width="0.85"/>
<circle cx="529.68" cy="105.45" r="3.7" fill="none" stroke="#dc1c1c" stroke-width="0.85"/>
<circle cx="534.24" cy="117.09" r="3.7" fill="none" stroke="#dc1c1c" stroke-width="0.85"/>
<circle cx="538.8" cy="120.13" r="3.7" fill="none" stroke="#dc1c1c" stroke-width="0.85"/>
<circle cx="543.36" cy="120.44" r="3.7" fill="none" stroke="#dc1c1c" stroke-width="0.85"/>
<circle cx="547.92" cy="116.86" r="3.7" fill="none" stroke="#dc1c1c" stroke-width="0.85"/>
<circle cx="552.48" cy="130.9" r="3.7" fill="none" stroke="#dc1c1c" stroke-width="0.85"/>
<circle cx="557.04" cy="124.91" r="3.7" fill="none" stroke="#dc1c1c" stroke-width="0.85"/>
<circle cx="561.6" cy="134.88" r="3.7" fill="none" stroke="#dc1c1c" stroke-width="0.85"/>
<circle cx="566.16" cy="127.66" r="3.7" fill="none" stroke="#dc1c1c" stroke-width="0.85"/>
<circle cx="570.72" cy="127.66" r="3.7" fill="none" stroke="#dc1c1c" stroke-width="0.85"/>
<circle cx="575.28" cy="134.88" r="3.7" fill="none" stroke="#dc1c1c" stroke-width="0.85"/>
<circle cx="579.84" cy="140" r="3.7" fill="none" stroke="#dc1c1c" stroke-width="0.85"/>
<circle cx="584.4" cy="147.22" r="3.7" fill="none" stroke="#dc1c1c" stroke-width="0.85"/>
<circle cx="588.96" cy="147.22" r="3.7" fill="none" stroke="#dc1c1c" stroke-width="0.85"/>
<circle cx="598.08" cy="159.56" r="3.7" fill="none" stroke="#dc1c1c" stroke-width="0.85"/>
<circle cx="602.64" cy="159.56" r="3.7" fill="none" stroke="#dc1c1c" stroke-width="0.85"/>
<circle cx="607.2" cy="159.56" r="3.7" fill="none" stroke="#dc1c1c" stroke-width="0.85"/>
<circle cx="620.88" cy="159.56" r="3.7" fill="none" stroke="#dc1c1c" stroke-width="0.85"/>
<rect x="426.46" y="48.27" width="5.8" height="5.8" fill="none" stroke="#d03434" stroke-width="0.85"/>
<rect x="431.02" y="51.13" width="5.8" height="5.8" fill="none" stroke="#d03434" stroke-width="0.85"/>
<rect x="435.58" y="55.46" width="5.8" height="5.8" fill="none" stroke="#d03434" stroke-width="0.85"/>
<rect x="440.14" y="56.78" width="5.8" height="5.8" fill="none" stroke="#d03434" stroke-width="0.85"/>
<rect x="444.7" y="58.42" width="5.8" height="5.8" fill="none" stroke="#d03434" stroke-width="0.85"/>
<rect x="449.26" y="61.88" width="5.8" height="5.8" fill="none" stroke="#d03434" stroke-width="0.85"/>
<rect x="453.82" y="67.44" width="5.8" height="5.8" fill="none" stroke="#d03434" stroke-width="0.85"/>
<rect x="458.38" y="71.12" width="5.8" height="5.8" fill="none" stroke="#d03434" stroke-width="0.85"/>
<rect x="462.94" y="70.27" width="5.8" height="5.8" fill="none" stroke="#d03434" stroke-width="0.85"/>
<rect x="467.5" y="74.48" width="5.8" height="5.8" fill="none" stroke="#d03434" stroke-width="0.85"/>
<rect x="472.06" y="77.77" width="5.8" height="5.8" fill="none" stroke="#d03434" stroke-width="0.85"/>
<rect x="476.62" y="77.14" width="5.8" height="5.8" fill="none" stroke="#d03434" stroke-width="0.85"/>
<rect x="481.18" y="79.55" width="5.8" height="5.8" fill="none" stroke="#d03434" stroke-width="0.85"/>
<rect x="485.74" y="83.46" width="5.8" height="5.8" fill="none" stroke="#d03434" stroke-width="0.85"/>
<rect x="490.3" y="85.97" width="5.8" height="5.8" fill="none" stroke="#d03434" stroke-width="0.85"/>
<rect x="494.86" y="88.11" width="5.8" height="5.8" fill="none" stroke="#d03434" stroke-width="0.85"/>
<rect x="499.42" y="88.11" width="5.8" height="5.8" fill="none" stroke="#d03434" stroke-width="0.85"/>
<rect x="503.98" y="92.37" width="5.8" height="5.8" fill="none" stroke="#d03434" stroke-width="0.85"/>
<rect x="508.54" y="94.95" width="5.8" height="5.8" fill="none" stroke="#d03434" stroke-width="0.85"/>
<rect x="513.1" y="97.33" width="5.8" height="5.8" fill="none" stroke="#d03434" stroke-width="0.85"/>
<rect x="517.66" y="105.48" width="5.8" height="5.8" fill="none" stroke="#d03434" stroke-width="0.85"/>
<rect x="522.22" y="100.83" width="5.8" height="5.8" fill="none" stroke="#d03434" stroke-width="0.85"/>
<rect x="526.78" y="104.23" width="5.8" height="5.8" fill="none" stroke="#d03434" stroke-width="0.85"/>
<rect x="531.34" y="108.44" width="5.8" height="5.8" fill="none" stroke="#d03434" stroke-width="0.85"/>
<rect x="535.9" y="117.23" width="5.8" height="5.8" fill="none" stroke="#d03434" stroke-width="0.85"/>
<rect x="540.46" y="115.66" width="5.8" height="5.8" fill="none" stroke="#d03434" stroke-width="0.85"/>
<rect x="545.02" y="119.64" width="5.8" height="5.8" fill="none" stroke="#d03434" stroke-width="0.85"/>
<rect x="549.58" y="122.01" width="5.8" height="5.8" fill="none" stroke="#d03434" stroke-width="0.85"/>
<rect x="554.14" y="124.76" width="5.8" height="5.8" fill="none" stroke="#d03434" stroke-width="0.85"/>
<rect x="558.7" y="128" width="5.8" height="5.8" fill="none" stroke="#d03434" stroke-width="0.85"/>
<rect x="563.26" y="128" width="5.8" height="5.8" fill="none" stroke="#d03434" stroke-width="0.85"/>
<rect x="567.82" y="131.98" width="5.8" height="5.8" fill="none" stroke="#d03434" stroke-width="0.85"/>
<rect x="572.38" y="137.1" width="5.8" height="5.8" fill="none" stroke="#d03434" stroke-width="0.85"/>
<rect x="576.94" y="131.98" width="5.8" height="5.8" fill="none" stroke="#d03434" stroke-width="0.85"/>
<rect x="586.06" y="137.1" width="5.8" height="5.8" fill="none" stroke="#d03434" stroke-width="0.85"/>
<rect x="590.62" y="144.32" width="5.8" height="5.8" fill="none" stroke="#d03434" stroke-width="0.85"/>
<rect x="595.18" y="144.32" width="5.8" height="5.8" fill="none" stroke="#d03434" stroke-width="0.85"/>
<rect x="608.86" y="137.1" width="5.8" height="5.8" fill="none" stroke="#d03434" stroke-width="0.85"/>
<rect x="613.42" y="156.66" width="5.8" height="5.8" fill="none" stroke="#d03434" stroke-width="0.85"/>
<rect x="636.22" y="156.66" width="5.8" height="5.8" fill="none" stroke="#d03434" stroke-width="0.85"/>
<path d="M429.36 46.48L433.06 51.28L429.36 56.08L425.66 51.28Z" fill="none" stroke="#dc2030" stroke-width="0.85"/>
<path d="M433.92 49.23L437.62 54.03L433.92 58.83L430.22 54.03Z" fill="none" stroke="#dc2030" stroke-width="0.85"/>
<path d="M438.48 52.85L442.18 57.65L438.48 62.45L434.78 57.65Z" fill="none" stroke="#dc2030" stroke-width="0.85"/>
<path d="M443.04 55.82L446.74 60.62L443.04 65.42L439.34 60.62Z" fill="none" stroke="#dc2030" stroke-width="0.85"/>
<path d="M447.6 57.4L451.3 62.2L447.6 67L443.9 62.2Z" fill="none" stroke="#dc2030" stroke-width="0.85"/>
<path d="M452.16 58.8L455.86 63.6L452.16 68.4L448.46 63.6Z" fill="none" stroke="#dc2030" stroke-width="0.85"/>
<path d="M456.72 65.19L460.42 69.99L456.72 74.79L453.02 69.99Z" fill="none" stroke="#dc2030" stroke-width="0.85"/>
<path d="M461.28 65.66L464.98 70.46L461.28 75.26L457.58 70.46Z" fill="none" stroke="#dc2030" stroke-width="0.85"/>
<path d="M465.84 68.09L469.54 72.89L465.84 77.69L462.14 72.89Z" fill="none" stroke="#dc2030" stroke-width="0.85"/>
<path d="M470.4 71.39L474.1 76.19L470.4 80.99L466.7 76.19Z" fill="none" stroke="#dc2030" stroke-width="0.85"/>
<path d="M474.96 73.12L478.66 77.92L474.96 82.72L471.26 77.92Z" fill="none" stroke="#dc2030" stroke-width="0.85"/>
<path d="M479.52 79.11L483.22 83.91L479.52 88.71L475.82 83.91Z" fill="none" stroke="#dc2030" stroke-width="0.85"/>
<path d="M484.08 79.11L487.78 83.91L484.08 88.71L480.38 83.91Z" fill="none" stroke="#dc2030" stroke-width="0.85"/>
<path d="M488.64 81.86L492.34 86.66L488.64 91.46L484.94 86.66Z" fill="none" stroke="#dc2030" stroke-width="0.85"/>
<path d="M493.2 84.41L496.9 89.21L493.2 94.01L489.5 89.21Z" fill="none" stroke="#dc2030" stroke-width="0.85"/>
<path d="M497.76 88.64L501.46 93.44L497.76 98.24L494.06 93.44Z" fill="none" stroke="#dc2030" stroke-width="0.85"/>
<path d="M502.32 88.21L506.02 93.01L502.32 97.81L498.62 93.01Z" fill="none" stroke="#dc2030" stroke-width="0.85"/>
<path d="M506.88 95.82L510.58 100.62L506.88 105.42L503.18 100.62Z" fill="none" stroke="#dc2030" stroke-width="0.85"/>
<path d="M511.44 97.45L515.14 102.25L511.44 107.05L507.74 102.25Z" fill="none" stroke="#dc2030" stroke-width="0.85"/>
<path d="M516 98.17L519.7 102.97L516 107.77L512.3 102.97Z" fill="none" stroke="#dc2030" stroke-width="0.85"/>
<path d="M520.56 103.3L524.26 108.1L520.56 112.9L516.86 108.1Z" fill="none" stroke="#dc2030" stroke-width="0.85"/>
<path d="M525.12 106.39L528.82 111.19L525.12 115.99L521.42 111.19Z" fill="none" stroke="#dc2030" stroke-width="0.85"/>
<path d="M529.68 109.09L533.38 113.89L529.68 118.69L525.98 113.89Z" fill="none" stroke="#dc2030" stroke-width="0.85"/>
<path d="M534.24 103.64L537.94 108.44L534.24 113.24L530.54 108.44Z" fill="none" stroke="#dc2030" stroke-width="0.85"/>
<path d="M538.8 109.09L542.5 113.89L538.8 118.69L535.1 113.89Z" fill="none" stroke="#dc2030" stroke-width="0.85"/>
<path d="M543.36 106.54L547.06 111.34L543.36 116.14L539.66 111.34Z" fill="none" stroke="#dc2030" stroke-width="0.85"/>
<path d="M547.92 117.74L551.62 122.54L547.92 127.34L544.22 122.54Z" fill="none" stroke="#dc2030" stroke-width="0.85"/>
<path d="M552.48 117.74L556.18 122.54L552.48 127.34L548.78 122.54Z" fill="none" stroke="#dc2030" stroke-width="0.85"/>
<path d="M557.04 115.64L560.74 120.44L557.04 125.24L553.34 120.44Z" fill="none" stroke="#dc2030" stroke-width="0.85"/>
<path d="M561.6 122.86L565.3 127.66L561.6 132.46L557.9 127.66Z" fill="none" stroke="#dc2030" stroke-width="0.85"/>
<path d="M566.16 130.08L569.86 134.88L566.16 139.68L562.46 134.88Z" fill="none" stroke="#dc2030" stroke-width="0.85"/>
<path d="M570.72 135.2L574.42 140L570.72 144.8L567.02 140Z" fill="none" stroke="#dc2030" stroke-width="0.85"/>
<path d="M575.28 117.74L578.98 122.54L575.28 127.34L571.58 122.54Z" fill="none" stroke="#dc2030" stroke-width="0.85"/>
<path d="M579.84 135.2L583.54 140L579.84 144.8L576.14 140Z" fill="none" stroke="#dc2030" stroke-width="0.85"/>
<path d="M584.4 135.2L588.1 140L584.4 144.8L580.7 140Z" fill="none" stroke="#dc2030" stroke-width="0.85"/>
<path d="M593.52 142.42L597.22 147.22L593.52 152.02L589.82 147.22Z" fill="none" stroke="#dc2030" stroke-width="0.85"/>
<path d="M602.64 154.76L606.34 159.56L602.64 164.36L598.94 159.56Z" fill="none" stroke="#dc2030" stroke-width="0.85"/>
<path d="M607.2 154.76L610.9 159.56L607.2 164.36L603.5 159.56Z" fill="none" stroke="#dc2030" stroke-width="0.85"/>
<path d="M620.88 154.76L624.58 159.56L620.88 164.36L617.18 159.56Z" fill="none" stroke="#dc2030" stroke-width="0.85"/>
<path d="M625.44 142.42L629.14 147.22L625.44 152.02L621.74 147.22Z" fill="none" stroke="#dc2030" stroke-width="0.85"/>
<path d="M420.24 45.66 L424.8 49.63 L429.36 53.6 L433.92 57.58 L438.48 61.55 L443.04 65.52 L447.6 69.5 L452.16 73.47 L456.72 77.44 L461.28 81.42 L465.84 85.39 L470.4 89.36 L474.96 93.34 L479.52 97.31 L484.08 101.28 L488.64 105.26 L493.2 109.23 L497.76 113.2 L502.32 117.18 L506.88 121.15 L511.44 125.12 L516 129.1 L520.56 133.07 L525.12 137.04 L529.68 141.02 L534.24 144.99 L538.8 148.96 L543.36 152.94 L547.92 156.91 L552.48 160.88 L557.04 164.86 L561.6 168.83 L566.16 172.8 L570.72 176.78 L575.28 180.75 L579.84 184.72" fill="none" stroke="#000" stroke-width="2"/>
<path d="M429.36 51.65 L433.92 54.39 L438.48 57.14 L443.04 59.88 L447.6 62.63 L452.16 65.37 L456.72 68.12 L461.28 70.86 L465.84 73.61 L470.4 76.35 L474.96 79.1 L479.52 81.84 L484.08 84.59 L488.64 87.33 L493.2 90.08 L497.76 92.82 L502.32 95.57 L506.88 98.31 L511.44 101.06 L516 103.8 L520.56 106.55 L525.12 109.29 L529.68 112.04 L534.24 114.78 L538.8 117.52 L543.36 120.27 L547.92 123.01 L552.48 125.76 L557.04 128.5 L561.6 131.25 L566.16 133.99 L570.72 136.74 L575.28 139.48 L579.84 142.23 L584.4 144.97 L588.96 147.72 L593.52 150.46 L598.08 153.21 L602.64 155.95 L607.2 158.7 L611.76 161.44 L616.32 164.19 L620.88 166.93" fill="none" stroke="#d41010" stroke-width="2.2"/>
<line x1="402" y1="222" x2="402" y2="218.8" stroke="#262626" stroke-width="1.45" />
<line x1="402" y1="17" x2="402" y2="20.2" stroke="#262626" stroke-width="1.45" />
<line x1="447.6" y1="222" x2="447.6" y2="218.8" stroke="#262626" stroke-width="1.45" />
<line x1="447.6" y1="17" x2="447.6" y2="20.2" stroke="#262626" stroke-width="1.45" />
<line x1="493.2" y1="222" x2="493.2" y2="218.8" stroke="#262626" stroke-width="1.45" />
<line x1="493.2" y1="17" x2="493.2" y2="20.2" stroke="#262626" stroke-width="1.45" />
<line x1="538.8" y1="222" x2="538.8" y2="218.8" stroke="#262626" stroke-width="1.45" />
<line x1="538.8" y1="17" x2="538.8" y2="20.2" stroke="#262626" stroke-width="1.45" />
<line x1="584.4" y1="222" x2="584.4" y2="218.8" stroke="#262626" stroke-width="1.45" />
<line x1="584.4" y1="17" x2="584.4" y2="20.2" stroke="#262626" stroke-width="1.45" />
<line x1="630" y1="222" x2="630" y2="218.8" stroke="#262626" stroke-width="1.45" />
<line x1="630" y1="17" x2="630" y2="20.2" stroke="#262626" stroke-width="1.45" />
<line x1="675.6" y1="222" x2="675.6" y2="218.8" stroke="#262626" stroke-width="1.45" />
<line x1="675.6" y1="17" x2="675.6" y2="20.2" stroke="#262626" stroke-width="1.45" />
<line x1="402" y1="222" x2="403.8" y2="222" stroke="#262626" stroke-width="1.45" />
<line x1="675.6" y1="222" x2="673.8" y2="222" stroke="#262626" stroke-width="1.45" />
<line x1="402" y1="181" x2="403.8" y2="181" stroke="#262626" stroke-width="1.45" />
<line x1="675.6" y1="181" x2="673.8" y2="181" stroke="#262626" stroke-width="1.45" />
<line x1="402" y1="140" x2="403.8" y2="140" stroke="#262626" stroke-width="1.45" />
<line x1="675.6" y1="140" x2="673.8" y2="140" stroke="#262626" stroke-width="1.45" />
<line x1="402" y1="99" x2="403.8" y2="99" stroke="#262626" stroke-width="1.45" />
<line x1="675.6" y1="99" x2="673.8" y2="99" stroke="#262626" stroke-width="1.45" />
<line x1="402" y1="58" x2="403.8" y2="58" stroke="#262626" stroke-width="1.45" />
<line x1="675.6" y1="58" x2="673.8" y2="58" stroke="#262626" stroke-width="1.45" />
<line x1="402" y1="17" x2="403.8" y2="17" stroke="#262626" stroke-width="1.45" />
<line x1="675.6" y1="17" x2="673.8" y2="17" stroke="#262626" stroke-width="1.45" />
<rect x="402" y="17" width="273.6" height="205" fill="none" stroke="#262626" stroke-width="1.45" />
<text x="402" y="238.8" font-size="12" text-anchor="middle" font-weight="bold" fill="#262626" stroke="#262626" stroke-width="0.3" font-family='"Liberation Sans", sans-serif' >0</text>
<text x="447.6" y="238.8" font-size="12" text-anchor="middle" font-weight="bold" fill="#262626" stroke="#262626" stroke-width="0.3" font-family='"Liberation Sans", sans-serif' >10</text>
<text x="493.2" y="238.8" font-size="12" text-anchor="middle" font-weight="bold" fill="#262626" stroke="#262626" stroke-width="0.3" font-family='"Liberation Sans", sans-serif' >20</text>
<text x="538.8" y="238.8" font-size="12" text-anchor="middle" font-weight="bold" fill="#262626" stroke="#262626" stroke-width="0.3" font-family='"Liberation Sans", sans-serif' >30</text>
<text x="584.4" y="238.8" font-size="12" text-anchor="middle" font-weight="bold" fill="#262626" stroke="#262626" stroke-width="0.3" font-family='"Liberation Sans", sans-serif' >40</text>
<text x="630" y="238.8" font-size="12" text-anchor="middle" font-weight="bold" fill="#262626" stroke="#262626" stroke-width="0.3" font-family='"Liberation Sans", sans-serif' >50</text>
<text x="675.6" y="238.8" font-size="12" text-anchor="middle" font-weight="bold" fill="#262626" stroke="#262626" stroke-width="0.3" font-family='"Liberation Sans", sans-serif' >60</text>
<text x="392.2" y="24" font-size="12" text-anchor="end" font-weight="bold" fill="#262626" stroke="#262626" stroke-width="0.3" font-family='"Liberation Sans", sans-serif' >10</text>
<text x="392.6" y="17.8" font-size="10" text-anchor="start" font-weight="bold" fill="#262626" stroke="#262626" stroke-width="0.3" font-family='"Liberation Sans", sans-serif' >0</text>
<text x="388.7" y="228.8" font-size="12" text-anchor="end" font-weight="bold" fill="#262626" stroke="#262626" stroke-width="0.3" font-family='"Liberation Sans", sans-serif' >10</text>
<text x="389" y="222.8" font-size="10" text-anchor="start" font-weight="bold" fill="#262626" stroke="#262626" stroke-width="0.3" font-family='"Liberation Sans", sans-serif' >-5</text>
<text x="538.7" y="11.3" font-size="13.6" text-anchor="middle" font-weight="bold" fill="#111" stroke="#111" stroke-width="0.3" font-family='"Liberation Sans", sans-serif' >(b)</text>
<text x="538.1" y="256.4" font-size="13" text-anchor="middle" font-weight="bold" fill="#111" stroke="#111" stroke-width="0.3" font-family='"Liberation Sans", sans-serif' >k</text>
<text x="369.2" y="119.5" font-size="13" text-anchor="middle" font-weight="bold" fill="#111" stroke="#111" stroke-width="0.3" font-family='"Liberation Sans", sans-serif' transform="rotate(-90 369.2 119.5)">P(k)</text>
<rect x="556" y="23" width="113.5" height="77" fill="#fff" stroke="#262626" stroke-width="1.3" />
<circle cx="567" cy="31.3" r="3.89" fill="none" stroke="#8898c0" stroke-width="0.7"/>
<rect x="563.96" y="43.6" width="6.09" height="6.09" fill="none" stroke="#c0a090" stroke-width="0.7"/>
<path d="M567 56.56L570.88 61.6L567 66.64L563.12 61.6Z" fill="none" stroke="#e0d49c" stroke-width="0.7"/>
<text x="578.5" y="35.9" font-size="11" text-anchor="start" font-weight="bold" fill="#111" stroke="#111" stroke-width="0.3" font-family='"Liberation Sans", sans-serif' >Uniform</text>
<text x="578.5" y="51.05" font-size="11" text-anchor="start" font-weight="bold" fill="#111" stroke="#111" stroke-width="0.3" font-family='"Liberation Sans", sans-serif' >Gaussian</text>
<text x="578.5" y="66.2" font-size="11" text-anchor="start" font-weight="bold" fill="#111" stroke="#111" stroke-width="0.3" font-family='"Liberation Sans", sans-serif' >Power law</text>
<line x1="558" y1="76.85" x2="576" y2="76.85" stroke="#000" stroke-width="2" />
<text x="578.5" y="81.35" font-size="11" text-anchor="start" font-weight="bold" fill="#111" stroke="#111" stroke-width="0.3" font-family='"Liberation Sans", sans-serif' >Theoretical<tspan x="641.3" font-family='"Liberation Serif", serif' font-style="italic" font-weight="normal" font-size="12">ρ</tspan><tspan x="650.9">=</tspan><tspan x="660.6">1</tspan></text>
<line x1="558" y1="92" x2="576" y2="92" stroke="#d41010" stroke-width="2" />
<text x="578.5" y="96.5" font-size="11" text-anchor="start" font-weight="bold" fill="#111" stroke="#111" stroke-width="0.3" font-family='"Liberation Sans", sans-serif' >Theoretical<tspan x="641.3" font-family='"Liberation Serif", serif' font-style="italic" font-weight="normal" font-size="12">ρ</tspan><tspan x="650.9">=</tspan><tspan x="660.6">2</tspan></text>
<rect x="92.71" y="488.09" width="4.37" height="2.91" fill="#0000f0" stroke="rgba(0,0,0,0.5)" stroke-width="0.55" />
<rect x="92.71" y="489.54" width="4.37" height="1.46" fill="#dc0000" stroke="rgba(0,0,0,0.5)" stroke-width="0.55" />
<rect x="98.17" y="487.79" width="4.37" height="3.21" fill="#0000f0" stroke="rgba(0,0,0,0.5)" stroke-width="0.55" />
<rect x="98.17" y="489.54" width="4.37" height="1.46" fill="#d200f0" stroke="rgba(0,0,0,0.5)" stroke-width="0.55" />
<rect x="103.64" y="489.54" width="4.37" height="1.46" fill="#0000f0" stroke="rgba(0,0,0,0.5)" stroke-width="0.55" />
<rect x="103.64" y="490.13" width="4.37" height="0.87" fill="#80f040" stroke="rgba(0,0,0,0.5)" stroke-width="0.55" />
<rect x="109.11" y="488.96" width="4.37" height="2.04" fill="#d200f0" stroke="rgba(0,0,0,0.5)" stroke-width="0.55" />
<rect x="109.11" y="489.83" width="4.37" height="1.17" fill="#dc0000" stroke="rgba(0,0,0,0.5)" stroke-width="0.55" />
<rect x="114.57" y="487.79" width="4.37" height="3.21" fill="#0000f0" stroke="rgba(0,0,0,0.5)" stroke-width="0.55" />
<rect x="114.57" y="489.54" width="4.37" height="1.46" fill="#d200f0" stroke="rgba(0,0,0,0.5)" stroke-width="0.55" />
<rect x="120.04" y="487.5" width="4.37" height="3.5" fill="#0000f0" stroke="rgba(0,0,0,0.5)" stroke-width="0.55" />
<rect x="120.04" y="489.54" width="4.37" height="1.46" fill="#dc0000" stroke="rgba(0,0,0,0.5)" stroke-width="0.55" />
<rect x="125.5" y="489.25" width="4.37" height="1.75" fill="#80f040" stroke="rgba(0,0,0,0.5)" stroke-width="0.55" />
<rect x="125.5" y="489.83" width="4.37" height="1.17" fill="#0000f0" stroke="rgba(0,0,0,0.5)" stroke-width="0.55" />
<rect x="130.97" y="489.83" width="4.37" height="1.17" fill="#0000f0" stroke="rgba(0,0,0,0.5)" stroke-width="0.55" />
<rect x="136.44" y="488.38" width="4.37" height="2.62" fill="#0000f0" stroke="rgba(0,0,0,0.5)" stroke-width="0.55" />
<rect x="136.44" y="489.25" width="4.37" height="1.75" fill="#d200f0" stroke="rgba(0,0,0,0.5)" stroke-width="0.55" />
<rect x="136.44" y="489.83" width="4.37" height="1.17" fill="#8cf5fa" stroke="rgba(0,0,0,0.5)" stroke-width="0.55" />
<rect x="141.9" y="488.38" width="4.37" height="2.62" fill="#0000f0" stroke="rgba(0,0,0,0.5)" stroke-width="0.55" />
<rect x="141.9" y="489.83" width="4.37" height="1.17" fill="#dc0000" stroke="rgba(0,0,0,0.5)" stroke-width="0.55" />
<rect x="147.37" y="486.34" width="4.37" height="4.66" fill="#dc0000" stroke="rgba(0,0,0,0.5)" stroke-width="0.55" />
<rect x="147.37" y="487.79" width="4.37" height="3.21" fill="#80f040" stroke="rgba(0,0,0,0.5)" stroke-width="0.55" />
<rect x="147.37" y="488.96" width="4.37" height="2.04" fill="#d200f0" stroke="rgba(0,0,0,0.5)" stroke-width="0.55" />
<rect x="147.37" y="490.13" width="4.37" height="0.87" fill="#8cf5fa" stroke="rgba(0,0,0,0.5)" stroke-width="0.55" />
<rect x="154.34" y="488.09" width="1.37" height="2.91" fill="#d200f0" stroke="rgba(0,0,0,0.5)" stroke-width="0.55" />
<rect x="158.3" y="486.05" width="4.37" height="4.95" fill="#8cf5fa" stroke="rgba(0,0,0,0.5)" stroke-width="0.55" />
<rect x="163.77" y="489.83" width="4.37" height="1.17" fill="#dc0000" stroke="rgba(0,0,0,0.5)" stroke-width="0.55" />
<rect x="163.77" y="490.13" width="4.37" height="0.87" fill="#0000f0" stroke="rgba(0,0,0,0.5)" stroke-width="0.55" />
<rect x="169.23" y="483.71" width="4.37" height="7.29" fill="#dc0000" stroke="rgba(0,0,0,0.5)" stroke-width="0.55" />
<rect x="169.23" y="486.05" width="4.37" height="4.95" fill="#80f040" stroke="rgba(0,0,0,0.5)" stroke-width="0.55" />
<rect x="169.23" y="487.5" width="4.37" height="3.5" fill="#d200f0" stroke="rgba(0,0,0,0.5)" stroke-width="0.55" />
<rect x="169.23" y="489.25" width="4.37" height="1.75" fill="#8cf5fa" stroke="rgba(0,0,0,0.5)" stroke-width="0.55" />
<rect x="174.7" y="486.92" width="4.37" height="4.08" fill="#d200f0" stroke="rgba(0,0,0,0.5)" stroke-width="0.55" />
<rect x="174.7" y="489.25" width="4.37" height="1.75" fill="#dc0000" stroke="rgba(0,0,0,0.5)" stroke-width="0.55" />
<rect x="180.16" y="481.67" width="4.37" height="9.33" fill="#0000f0" stroke="rgba(0,0,0,0.5)" stroke-width="0.55" />
<rect x="180.16" y="487.5" width="4.37" height="3.5" fill="#dc0000" stroke="rgba(0,0,0,0.5)" stroke-width="0.55" />
<rect x="185.63" y="490.13" width="4.37" height="0.87" fill="#0000f0" stroke="rgba(0,0,0,0.5)" stroke-width="0.55" />
<rect x="191.1" y="486.63" width="4.37" height="4.37" fill="#0000f0" stroke="rgba(0,0,0,0.5)" stroke-width="0.55" />
<rect x="191.1" y="489.25" width="4.37" height="1.75" fill="#dc0000" stroke="rgba(0,0,0,0.5)" stroke-width="0.55" />
<rect x="196.56" y="458.36" width="4.37" height="32.64" fill="#0000f0" stroke="rgba(0,0,0,0.5)" stroke-width="0.55" />
<rect x="196.56" y="472.06" width="4.37" height="18.94" fill="#dc0000" stroke="rgba(0,0,0,0.5)" stroke-width="0.55" />
<rect x="202.03" y="472.93" width="4.37" height="18.07" fill="#0000f0" stroke="rgba(0,0,0,0.5)" stroke-width="0.55" />
<rect x="202.03" y="476.43" width="4.37" height="14.57" fill="#80f040" stroke="rgba(0,0,0,0.5)" stroke-width="0.55" />
<rect x="202.03" y="487.21" width="4.37" height="3.79" fill="#8cf5fa" stroke="rgba(0,0,0,0.5)" stroke-width="0.55" />
<rect x="207.49" y="472.06" width="4.37" height="18.94" fill="#0000f0" stroke="rgba(0,0,0,0.5)" stroke-width="0.55" />
<rect x="207.49" y="477.3" width="4.37" height="13.7" fill="#80f040" stroke="rgba(0,0,0,0.5)" stroke-width="0.55" />
<rect x="207.49" y="479.34" width="4.37" height="11.66" fill="#d200f0" stroke="rgba(0,0,0,0.5)" stroke-width="0.55" />
<rect x="207.49" y="488.09" width="4.37" height="2.91" fill="#8cf5fa" stroke="rgba(0,0,0,0.5)" stroke-width="0.55" />
<rect x="212.96" y="460.11" width="4.37" height="30.89" fill="#0000f0" stroke="rgba(0,0,0,0.5)" stroke-width="0.55" />
<rect x="212.96" y="476.72" width="4.37" height="14.28" fill="#8cf5fa" stroke="rgba(0,0,0,0.5)" stroke-width="0.55" />
<rect x="218.43" y="445.25" width="4.37" height="45.75" fill="#0000f0" stroke="rgba(0,0,0,0.5)" stroke-width="0.55" />
<rect x="218.43" y="483.42" width="4.37" height="7.58" fill="#dc0000" stroke="rgba(0,0,0,0.5)" stroke-width="0.55" />
<rect x="218.43" y="486.92" width="4.37" height="4.08" fill="#8cf5fa" stroke="rgba(0,0,0,0.5)" stroke-width="0.55" />
<rect x="223.89" y="471.77" width="4.37" height="19.23" fill="#dc0000" stroke="rgba(0,0,0,0.5)" stroke-width="0.55" />
<rect x="223.89" y="479.05" width="4.37" height="11.95" fill="#d200f0" stroke="rgba(0,0,0,0.5)" stroke-width="0.55" />
<rect x="223.89" y="481.38" width="4.37" height="9.62" fill="#8cf5fa" stroke="rgba(0,0,0,0.5)" stroke-width="0.55" />
<rect x="229.36" y="402.11" width="4.37" height="88.89" fill="#0000f0" stroke="rgba(0,0,0,0.5)" stroke-width="0.55" />
<rect x="229.36" y="447.87" width="4.37" height="43.13" fill="#dc0000" stroke="rgba(0,0,0,0.5)" stroke-width="0.55" />
<rect x="229.36" y="482.84" width="4.37" height="8.16" fill="#d200f0" stroke="rgba(0,0,0,0.5)" stroke-width="0.55" />
<rect x="229.36" y="485.17" width="4.37" height="5.83" fill="#8cf5fa" stroke="rgba(0,0,0,0.5)" stroke-width="0.55" />
<rect x="234.82" y="423.1" width="4.37" height="67.9" fill="#dc0000" stroke="rgba(0,0,0,0.5)" stroke-width="0.55" />
<rect x="234.82" y="444.37" width="4.37" height="46.63" fill="#80f040" stroke="rgba(0,0,0,0.5)" stroke-width="0.55" />
<rect x="234.82" y="447.29" width="4.37" height="43.71" fill="#d200f0" stroke="rgba(0,0,0,0.5)" stroke-width="0.55" />
<rect x="234.82" y="462.44" width="4.37" height="28.56" fill="#8cf5fa" stroke="rgba(0,0,0,0.5)" stroke-width="0.55" />
<rect x="240.29" y="462.44" width="4.37" height="28.56" fill="#8cf5fa" stroke="rgba(0,0,0,0.5)" stroke-width="0.55" />
<rect x="245.76" y="289.91" width="4.37" height="201.09" fill="#0000f0" stroke="rgba(0,0,0,0.5)" stroke-width="0.55" />
<rect x="245.76" y="374.43" width="4.37" height="116.57" fill="#dc0000" stroke="rgba(0,0,0,0.5)" stroke-width="0.55" />
<rect x="245.76" y="418.43" width="4.37" height="72.57" fill="#80f040" stroke="rgba(0,0,0,0.5)" stroke-width="0.55" />
<rect x="245.76" y="432.71" width="4.37" height="58.29" fill="#d200f0" stroke="rgba(0,0,0,0.5)" stroke-width="0.55" />
<rect x="245.76" y="462.44" width="4.37" height="28.56" fill="#8cf5fa" stroke="rgba(0,0,0,0.5)" stroke-width="0.55" />
<rect x="262.15" y="462.44" width="4.37" height="28.56" fill="#8cf5fa" stroke="rgba(0,0,0,0.5)" stroke-width="0.55" />
<rect x="196.56" y="453.11" width="21.59" height="37.89" fill="rgba(110,225,60,0.36)" stroke="#8a9a80" stroke-width="0.8" />
<line x1="45.7" y1="491" x2="45.7" y2="487.8" stroke="#262626" stroke-width="1.45" />
<line x1="45.7" y1="287" x2="45.7" y2="290.2" stroke="#262626" stroke-width="1.45" />
<line x1="100.36" y1="491" x2="100.36" y2="487.8" stroke="#262626" stroke-width="1.45" />
<line x1="100.36" y1="287" x2="100.36" y2="290.2" stroke="#262626" stroke-width="1.45" />
<line x1="155.02" y1="491" x2="155.02" y2="487.8" stroke="#262626" stroke-width="1.45" />
<line x1="155.02" y1="287" x2="155.02" y2="290.2" stroke="#262626" stroke-width="1.45" />
<line x1="209.68" y1="491" x2="209.68" y2="487.8" stroke="#262626" stroke-width="1.45" />
<line x1="209.68" y1="287" x2="209.68" y2="290.2" stroke="#262626" stroke-width="1.45" />
<line x1="264.34" y1="491" x2="264.34" y2="487.8" stroke="#262626" stroke-width="1.45" />
<line x1="264.34" y1="287" x2="264.34" y2="290.2" stroke="#262626" stroke-width="1.45" />
<line x1="319" y1="491" x2="319" y2="487.8" stroke="#262626" stroke-width="1.45" />
<line x1="319" y1="287" x2="319" y2="290.2" stroke="#262626" stroke-width="1.45" />
<line x1="45.7" y1="491" x2="48.9" y2="491" stroke="#262626" stroke-width="1.45" />
<line x1="319" y1="491" x2="315.8" y2="491" stroke="#262626" stroke-width="1.45" />
<line x1="45.7" y1="461.86" x2="48.9" y2="461.86" stroke="#262626" stroke-width="1.45" />
<line x1="319" y1="461.86" x2="315.8" y2="461.86" stroke="#262626" stroke-width="1.45" />
<line x1="45.7" y1="432.71" x2="48.9" y2="432.71" stroke="#262626" stroke-width="1.45" />
<line x1="319" y1="432.71" x2="315.8" y2="432.71" stroke="#262626" stroke-width="1.45" />
<line x1="45.7" y1="403.57" x2="48.9" y2="403.57" stroke="#262626" stroke-width="1.45" />
<line x1="319" y1="403.57" x2="315.8" y2="403.57" stroke="#262626" stroke-width="1.45" />
<line x1="45.7" y1="374.43" x2="48.9" y2="374.43" stroke="#262626" stroke-width="1.45" />
<line x1="319" y1="374.43" x2="315.8" y2="374.43" stroke="#262626" stroke-width="1.45" />
<line x1="45.7" y1="345.29" x2="48.9" y2="345.29" stroke="#262626" stroke-width="1.45" />
<line x1="319" y1="345.29" x2="315.8" y2="345.29" stroke="#262626" stroke-width="1.45" />
<line x1="45.7" y1="316.14" x2="48.9" y2="316.14" stroke="#262626" stroke-width="1.45" />
<line x1="319" y1="316.14" x2="315.8" y2="316.14" stroke="#262626" stroke-width="1.45" />
<line x1="45.7" y1="287" x2="48.9" y2="287" stroke="#262626" stroke-width="1.45" />
<line x1="319" y1="287" x2="315.8" y2="287" stroke="#262626" stroke-width="1.45" />
<rect x="45.7" y="287" width="273.3" height="204" fill="none" stroke="#262626" stroke-width="1.45" />
<text x="45.7" y="507.8" font-size="12" text-anchor="middle" font-weight="bold" fill="#262626" stroke="#262626" stroke-width="0.3" font-family='"Liberation Sans", sans-serif' >0</text>
<text x="100.36" y="507.8" font-size="12" text-anchor="middle" font-weight="bold" fill="#262626" stroke="#262626" stroke-width="0.3" font-family='"Liberation Sans", sans-serif' >10</text>
<text x="155.02" y="507.8" font-size="12" text-anchor="middle" font-weight="bold" fill="#262626" stroke="#262626" stroke-width="0.3" font-family='"Liberation Sans", sans-serif' >20</text>
<text x="209.68" y="507.8" font-size="12" text-anchor="middle" font-weight="bold" fill="#262626" stroke="#262626" stroke-width="0.3" font-family='"Liberation Sans", sans-serif' >30</text>
<text x="264.34" y="507.8" font-size="12" text-anchor="middle" font-weight="bold" fill="#262626" stroke="#262626" stroke-width="0.3" font-family='"Liberation Sans", sans-serif' >40</text>
<text x="319" y="507.8" font-size="12" text-anchor="middle" font-weight="bold" fill="#262626" stroke="#262626" stroke-width="0.3" font-family='"Liberation Sans", sans-serif' >50</text>
<text x="40.2" y="495.8" font-size="12" text-anchor="end" font-weight="bold" fill="#262626" stroke="#262626" stroke-width="0.3" font-family='"Liberation Sans", sans-serif' >0</text>
<text x="40.2" y="466.66" font-size="12" text-anchor="end" font-weight="bold" fill="#262626" stroke="#262626" stroke-width="0.3" font-family='"Liberation Sans", sans-serif' >1</text>
<text x="40.2" y="437.51" font-size="12" text-anchor="end" font-weight="bold" fill="#262626" stroke="#262626" stroke-width="0.3" font-family='"Liberation Sans", sans-serif' >2</text>
<text x="40.2" y="408.37" font-size="12" text-anchor="end" font-weight="bold" fill="#262626" stroke="#262626" stroke-width="0.3" font-family='"Liberation Sans", sans-serif' >3</text>
<text x="40.2" y="379.23" font-size="12" text-anchor="end" font-weight="bold" fill="#262626" stroke="#262626" stroke-width="0.3" font-family='"Liberation Sans", sans-serif' >4</text>
<text x="40.2" y="350.09" font-size="12" text-anchor="end" font-weight="bold" fill="#262626" stroke="#262626" stroke-width="0.3" font-family='"Liberation Sans", sans-serif' >5</text>
<text x="40.2" y="320.94" font-size="12" text-anchor="end" font-weight="bold" fill="#262626" stroke="#262626" stroke-width="0.3" font-family='"Liberation Sans", sans-serif' >6</text>
<text x="40.2" y="291.8" font-size="12" text-anchor="end" font-weight="bold" fill="#262626" stroke="#262626" stroke-width="0.3" font-family='"Liberation Sans", sans-serif' >7</text>
<text x="182.6" y="281.6" font-size="13.6" text-anchor="middle" font-weight="bold" fill="#111" stroke="#111" stroke-width="0.3" font-family='"Liberation Sans", sans-serif' >(c)</text>
<text x="182.4" y="526.5" font-size="13" text-anchor="middle" font-weight="bold" fill="#111" stroke="#111" stroke-width="0.3" font-family='"Liberation Sans", sans-serif' >k</text>
<text x="28.7" y="389" font-size="13" text-anchor="middle" font-weight="bold" fill="#111" stroke="#111" stroke-width="0.3" font-family='"Liberation Sans", sans-serif' transform="rotate(-90 28.7 389)">E(k)</text>
<rect x="263.5" y="293" width="49.2" height="77.1" fill="#fff" stroke="#262626" stroke-width="1.3" />
<rect x="265.5" y="295.8" width="18.9" height="11.3" fill="#0000f0" stroke="#555" stroke-width="0.6" />
<text x="286.2" y="305.6" font-size="11" text-anchor="start" font-weight="bold" fill="#111" stroke="#111" stroke-width="0.3" font-family='"Liberation Sans", sans-serif' >1000</text>
<rect x="265.5" y="310.8" width="18.9" height="11.3" fill="#dc0000" stroke="#555" stroke-width="0.6" />
<text x="286.2" y="320.6" font-size="11" text-anchor="start" font-weight="bold" fill="#111" stroke="#111" stroke-width="0.3" font-family='"Liberation Sans", sans-serif' >2000</text>
<rect x="265.5" y="325.8" width="18.9" height="11.3" fill="#80f040" stroke="#555" stroke-width="0.6" />
<text x="286.2" y="335.6" font-size="11" text-anchor="start" font-weight="bold" fill="#111" stroke="#111" stroke-width="0.3" font-family='"Liberation Sans", sans-serif' >3000</text>
<rect x="265.5" y="340.8" width="18.9" height="11.3" fill="#d200f0" stroke="#555" stroke-width="0.6" />
<text x="286.2" y="350.6" font-size="11" text-anchor="start" font-weight="bold" fill="#111" stroke="#111" stroke-width="0.3" font-family='"Liberation Sans", sans-serif' >4000</text>
<rect x="265.5" y="355.8" width="18.9" height="11.3" fill="#8cf5fa" stroke="#555" stroke-width="0.6" />
<text x="286.2" y="365.6" font-size="11" text-anchor="start" font-weight="bold" fill="#111" stroke="#111" stroke-width="0.3" font-family='"Liberation Sans", sans-serif' >5000</text>
<text x="172" y="452.3" font-size="19" text-anchor="start" font-weight="normal" fill="#c83030" font-family='"Liberation Serif", serif' font-style="italic">k</text>
<text x="181.5" y="455.3" font-size="13" text-anchor="start" font-weight="normal" fill="#c83030" font-family='"Liberation Serif", serif' >0</text>
<rect x="88" y="315.5" width="99" height="65.5" fill="#fff" stroke="none" stroke-width="1.0" />
<line x1="88" y1="315.5" x2="187" y2="315.5" stroke="#111" stroke-width="1.1" />
<line x1="88" y1="381" x2="187" y2="381" stroke="#111" stroke-width="1.1" />
<line x1="88" y1="381" x2="88" y2="379" stroke="#111" stroke-width="1" />
<line x1="88" y1="315.5" x2="88" y2="317.5" stroke="#111" stroke-width="1" />
<line x1="112.75" y1="381" x2="112.75" y2="379" stroke="#111" stroke-width="1" />
<line x1="112.75" y1="315.5" x2="112.75" y2="317.5" stroke="#111" stroke-width="1" />
<line x1="137.5" y1="381" x2="137.5" y2="379" stroke="#111" stroke-width="1" />
<line x1="137.5" y1="315.5" x2="137.5" y2="317.5" stroke="#111" stroke-width="1" />
<line x1="162.25" y1="381" x2="162.25" y2="379" stroke="#111" stroke-width="1" />
<line x1="162.25" y1="315.5" x2="162.25" y2="317.5" stroke="#111" stroke-width="1" />
<line x1="187" y1="381" x2="187" y2="379" stroke="#111" stroke-width="1" />
<line x1="187" y1="315.5" x2="187" y2="317.5" stroke="#111" stroke-width="1" />
<path d="M88 327.51 L112.75 344.32 L137.5 358.07 L162.25 359.49 L187 362.44" fill="none" stroke="#4a7cbc" stroke-width="1.1"/>
<path d="M88 381 L112.75 381 L137.5 359.17 L162.25 337.33 L187 315.5" fill="none" stroke="#c8642c" stroke-width="1.1"/>
<circle cx="88" cy="327.51" r="3.9" fill="none" stroke="#4a7cbc" stroke-width="0.9"/>
<circle cx="112.75" cy="344.32" r="3.9" fill="none" stroke="#4a7cbc" stroke-width="0.9"/>
<circle cx="137.5" cy="358.07" r="3.9" fill="none" stroke="#4a7cbc" stroke-width="0.9"/>
<circle cx="162.25" cy="359.49" r="3.9" fill="none" stroke="#4a7cbc" stroke-width="0.9"/>
<circle cx="187" cy="362.44" r="3.9" fill="none" stroke="#4a7cbc" stroke-width="0.9"/>
<path d="M88 376L91.9 381L88 386L84.1 381Z" fill="none" stroke="#c05a2a" stroke-width="0.9"/>
<path d="M112.75 376L116.65 381L112.75 386L108.85 381Z" fill="none" stroke="#c05a2a" stroke-width="0.9"/>
<path d="M137.5 354.17L141.4 359.17L137.5 364.17L133.6 359.17Z" fill="none" stroke="#c05a2a" stroke-width="0.9"/>
<path d="M162.25 332.33L166.15 337.33L162.25 342.33L158.35 337.33Z" fill="none" stroke="#c05a2a" stroke-width="0.9"/>
<path d="M187 310.5L190.9 315.5L187 320.5L183.1 315.5Z" fill="none" stroke="#c05a2a" stroke-width="0.9"/>
<line x1="88" y1="315.5" x2="88" y2="381" stroke="#3030c4" stroke-width="1.4" />
<line x1="88" y1="381" x2="90" y2="381" stroke="#3030c4" stroke-width="1" />
<line x1="88" y1="359.17" x2="90" y2="359.17" stroke="#3030c4" stroke-width="1" />
<line x1="88" y1="337.33" x2="90" y2="337.33" stroke="#3030c4" stroke-width="1" />
<line x1="88" y1="315.5" x2="90" y2="315.5" stroke="#3030c4" stroke-width="1" />
<text x="84.5" y="384.5" font-size="9.8" text-anchor="end" font-weight="bold" fill="#2222b4" stroke="#2222b4" stroke-width="0.3" font-family='"Liberation Sans", sans-serif' >0</text>
<text x="84.5" y="362.67" font-size="9.8" text-anchor="end" font-weight="bold" fill="#2222b4" stroke="#2222b4" stroke-width="0.3" font-family='"Liberation Sans", sans-serif' >0.2</text>
<text x="84.5" y="340.83" font-size="9.8" text-anchor="end" font-weight="bold" fill="#2222b4" stroke="#2222b4" stroke-width="0.3" font-family='"Liberation Sans", sans-serif' >0.4</text>
<text x="84.5" y="319" font-size="9.8" text-anchor="end" font-weight="bold" fill="#2222b4" stroke="#2222b4" stroke-width="0.3" font-family='"Liberation Sans", sans-serif' >0.6</text>
<line x1="187" y1="315.5" x2="187" y2="381" stroke="#d02020" stroke-width="1.3" />
<line x1="187" y1="381" x2="185" y2="381" stroke="#d02020" stroke-width="1" />
<line x1="187" y1="359.17" x2="185" y2="359.17" stroke="#d02020" stroke-width="1" />
<line x1="187" y1="337.33" x2="185" y2="337.33" stroke="#d02020" stroke-width="1" />
<line x1="187" y1="315.5" x2="185" y2="315.5" stroke="#d02020" stroke-width="1" />
<text x="190.5" y="384.5" font-size="9.8" text-anchor="start" font-weight="bold" fill="#d02a2a" stroke="#d02a2a" stroke-width="0.3" font-family='"Liberation Sans", sans-serif' >28</text>
<text x="190.5" y="362.67" font-size="9.8" text-anchor="start" font-weight="bold" fill="#d02a2a" stroke="#d02a2a" stroke-width="0.3" font-family='"Liberation Sans", sans-serif' >29</text>
<text x="190.5" y="340.83" font-size="9.8" text-anchor="start" font-weight="bold" fill="#d02a2a" stroke="#d02a2a" stroke-width="0.3" font-family='"Liberation Sans", sans-serif' >30</text>
<text x="190.5" y="319" font-size="9.8" text-anchor="start" font-weight="bold" fill="#d02a2a" stroke="#d02a2a" stroke-width="0.3" font-family='"Liberation Sans", sans-serif' >31</text>
<text x="88" y="394.8" font-size="9.5" text-anchor="middle" font-weight="bold" fill="#111" stroke="#111" stroke-width="0.3" font-family='"Liberation Sans", sans-serif' >1000</text>
<text x="112.75" y="394.8" font-size="9.5" text-anchor="middle" font-weight="bold" fill="#111" stroke="#111" stroke-width="0.3" font-family='"Liberation Sans", sans-serif' >2000</text>
<text x="137.5" y="394.8" font-size="9.5" text-anchor="middle" font-weight="bold" fill="#111" stroke="#111" stroke-width="0.3" font-family='"Liberation Sans", sans-serif' >3000</text>
<text x="162.25" y="394.8" font-size="9.5" text-anchor="middle" font-weight="bold" fill="#111" stroke="#111" stroke-width="0.3" font-family='"Liberation Sans", sans-serif' >4000</text>
<text x="187" y="394.8" font-size="9.5" text-anchor="middle" font-weight="bold" fill="#111" stroke="#111" stroke-width="0.3" font-family='"Liberation Sans", sans-serif' >5000</text>
<text x="137.5" y="408.4" font-size="10" text-anchor="middle" font-weight="bold" fill="#111" stroke="#111" stroke-width="0.3" font-family='"Liberation Sans", sans-serif' >N</text>
<text x="68" y="348.3" font-size="10" text-anchor="middle" font-weight="bold" fill="#2222b4" stroke="#2222b4" stroke-width="0.3" font-family='"Liberation Sans", sans-serif' transform="rotate(-90 68 348.3)">ME</text>
<text x="213" y="349" font-size="9.8" text-anchor="middle" font-weight="bold" fill="#d02a2a" stroke="#d02a2a" stroke-width="0.3" font-family='"Liberation Sans", sans-serif' transform="rotate(-90 213 349)">k<tspan font-size="6.8" dx="0.6" dy="4.8">0</tspan></text>
<rect x="425.24" y="490.72" width="3.13" height="0.68" fill="#0000f0" stroke="rgba(0,0,0,0.5)" stroke-width="0.55" />
<rect x="429.15" y="490.38" width="3.13" height="1.02" fill="#0000f0" stroke="rgba(0,0,0,0.5)" stroke-width="0.55" />
<rect x="433.07" y="490.04" width="3.13" height="1.36" fill="#0000f0" stroke="rgba(0,0,0,0.5)" stroke-width="0.55" />
<rect x="436.99" y="489.7" width="3.13" height="1.7" fill="#0000f0" stroke="rgba(0,0,0,0.5)" stroke-width="0.55" />
<rect x="440.9" y="488.34" width="3.13" height="3.06" fill="#0000f0" stroke="rgba(0,0,0,0.5)" stroke-width="0.55" />
<rect x="440.9" y="490.04" width="3.13" height="1.36" fill="#80f040" stroke="rgba(0,0,0,0.5)" stroke-width="0.55" />
<rect x="444.82" y="487.53" width="3.13" height="3.87" fill="#0000f0" stroke="rgba(0,0,0,0.5)" stroke-width="0.55" />
<rect x="444.82" y="490.04" width="3.13" height="1.36" fill="#8cf5fa" stroke="rgba(0,0,0,0.5)" stroke-width="0.55" />
<rect x="448.74" y="486.98" width="3.13" height="4.42" fill="#0000f0" stroke="rgba(0,0,0,0.5)" stroke-width="0.55" />
<rect x="448.74" y="489.36" width="3.13" height="2.04" fill="#dc0000" stroke="rgba(0,0,0,0.5)" stroke-width="0.55" />
<rect x="452.66" y="488" width="3.13" height="3.4" fill="#0000f0" stroke="rgba(0,0,0,0.5)" stroke-width="0.55" />
<rect x="452.66" y="489.36" width="3.13" height="2.04" fill="#8cf5fa" stroke="rgba(0,0,0,0.5)" stroke-width="0.55" />
<rect x="456.57" y="484.6" width="3.13" height="6.8" fill="#8cf5fa" stroke="rgba(0,0,0,0.5)" stroke-width="0.55" />
<rect x="460.49" y="489.36" width="3.13" height="2.04" fill="#d200f0" stroke="rgba(0,0,0,0.5)" stroke-width="0.55" />
<rect x="464.41" y="488.48" width="3.13" height="2.92" fill="#0000f0" stroke="rgba(0,0,0,0.5)" stroke-width="0.55" />
<rect x="464.41" y="490.04" width="3.13" height="1.36" fill="#d200f0" stroke="rgba(0,0,0,0.5)" stroke-width="0.55" />
<rect x="468.32" y="489.02" width="3.13" height="2.38" fill="#0000f0" stroke="rgba(0,0,0,0.5)" stroke-width="0.55" />
<rect x="472.24" y="487.32" width="3.13" height="4.08" fill="#0000f0" stroke="rgba(0,0,0,0.5)" stroke-width="0.55" />
<rect x="472.24" y="489.36" width="3.13" height="2.04" fill="#80f040" stroke="rgba(0,0,0,0.5)" stroke-width="0.55" />
<rect x="476.16" y="489.02" width="3.13" height="2.38" fill="#0000f0" stroke="rgba(0,0,0,0.5)" stroke-width="0.55" />
<rect x="480.08" y="485.28" width="3.13" height="6.12" fill="#0000f0" stroke="rgba(0,0,0,0.5)" stroke-width="0.55" />
<rect x="480.08" y="486.64" width="3.13" height="4.76" fill="#dc0000" stroke="rgba(0,0,0,0.5)" stroke-width="0.55" />
<rect x="483.99" y="488" width="3.13" height="3.4" fill="#0000f0" stroke="rgba(0,0,0,0.5)" stroke-width="0.55" />
<rect x="487.91" y="480.87" width="3.13" height="10.53" fill="#0000f0" stroke="rgba(0,0,0,0.5)" stroke-width="0.55" />
<rect x="487.91" y="485.28" width="3.13" height="6.12" fill="#d200f0" stroke="rgba(0,0,0,0.5)" stroke-width="0.55" />
<rect x="491.83" y="485.62" width="3.13" height="5.78" fill="#dc0000" stroke="rgba(0,0,0,0.5)" stroke-width="0.55" />
<rect x="491.83" y="488" width="3.13" height="3.4" fill="#8cf5fa" stroke="rgba(0,0,0,0.5)" stroke-width="0.55" />
<rect x="495.74" y="488" width="3.13" height="3.4" fill="#0000f0" stroke="rgba(0,0,0,0.5)" stroke-width="0.55" />
<rect x="499.66" y="489.36" width="3.13" height="2.04" fill="#0000f0" stroke="rgba(0,0,0,0.5)" stroke-width="0.55" />
<rect x="503.58" y="481.88" width="3.13" height="9.52" fill="#0000f0" stroke="rgba(0,0,0,0.5)" stroke-width="0.55" />
<rect x="503.58" y="484.6" width="3.13" height="6.8" fill="#d200f0" stroke="rgba(0,0,0,0.5)" stroke-width="0.55" />
<rect x="503.58" y="488" width="3.13" height="3.4" fill="#dc0000" stroke="rgba(0,0,0,0.5)" stroke-width="0.55" />
<rect x="507.5" y="474.75" width="3.13" height="16.65" fill="#0000f0" stroke="rgba(0,0,0,0.5)" stroke-width="0.55" />
<rect x="507.5" y="485.96" width="3.13" height="5.44" fill="#dc0000" stroke="rgba(0,0,0,0.5)" stroke-width="0.55" />
<rect x="507.5" y="488" width="3.13" height="3.4" fill="#80f040" stroke="rgba(0,0,0,0.5)" stroke-width="0.55" />
<rect x="511.41" y="478.83" width="3.13" height="12.57" fill="#0000f0" stroke="rgba(0,0,0,0.5)" stroke-width="0.55" />
<rect x="511.41" y="482.56" width="3.13" height="8.84" fill="#dc0000" stroke="rgba(0,0,0,0.5)" stroke-width="0.55" />
<rect x="511.41" y="485.96" width="3.13" height="5.44" fill="#80f040" stroke="rgba(0,0,0,0.5)" stroke-width="0.55" />
<rect x="515.33" y="489.36" width="3.13" height="2.04" fill="#0000f0" stroke="rgba(0,0,0,0.5)" stroke-width="0.55" />
<rect x="519.25" y="474.07" width="3.13" height="17.33" fill="#0000f0" stroke="rgba(0,0,0,0.5)" stroke-width="0.55" />
<rect x="519.25" y="480.53" width="3.13" height="10.87" fill="#dc0000" stroke="rgba(0,0,0,0.5)" stroke-width="0.55" />
<rect x="519.25" y="485.96" width="3.13" height="5.44" fill="#8cf5fa" stroke="rgba(0,0,0,0.5)" stroke-width="0.55" />
<rect x="523.16" y="474.41" width="3.13" height="16.99" fill="#0000f0" stroke="rgba(0,0,0,0.5)" stroke-width="0.55" />
<rect x="523.16" y="479.17" width="3.13" height="12.23" fill="#dc0000" stroke="rgba(0,0,0,0.5)" stroke-width="0.55" />
<rect x="523.16" y="484.6" width="3.13" height="6.8" fill="#8cf5fa" stroke="rgba(0,0,0,0.5)" stroke-width="0.55" />
<rect x="527.08" y="473.05" width="3.13" height="18.35" fill="#0000f0" stroke="rgba(0,0,0,0.5)" stroke-width="0.55" />
<rect x="527.08" y="476.45" width="3.13" height="14.95" fill="#80f040" stroke="rgba(0,0,0,0.5)" stroke-width="0.55" />
<rect x="527.08" y="481.88" width="3.13" height="9.52" fill="#8cf5fa" stroke="rgba(0,0,0,0.5)" stroke-width="0.55" />
<rect x="531" y="479.17" width="3.13" height="12.23" fill="#0000f0" stroke="rgba(0,0,0,0.5)" stroke-width="0.55" />
<rect x="531" y="483.24" width="3.13" height="8.16" fill="#dc0000" stroke="rgba(0,0,0,0.5)" stroke-width="0.55" />
<rect x="531" y="484.6" width="3.13" height="6.8" fill="#8cf5fa" stroke="rgba(0,0,0,0.5)" stroke-width="0.55" />
<rect x="534.92" y="471.01" width="3.13" height="20.39" fill="#0000f0" stroke="rgba(0,0,0,0.5)" stroke-width="0.55" />
<rect x="534.92" y="484.6" width="3.13" height="6.8" fill="#dc0000" stroke="rgba(0,0,0,0.5)" stroke-width="0.55" />
<rect x="534.92" y="485.96" width="3.13" height="5.44" fill="#8cf5fa" stroke="rgba(0,0,0,0.5)" stroke-width="0.55" />
<rect x="538.83" y="476.45" width="3.13" height="14.95" fill="#dc0000" stroke="rgba(0,0,0,0.5)" stroke-width="0.55" />
<rect x="538.83" y="479.17" width="3.13" height="12.23" fill="#0000f0" stroke="rgba(0,0,0,0.5)" stroke-width="0.55" />
<rect x="538.83" y="483.24" width="3.13" height="8.16" fill="#8cf5fa" stroke="rgba(0,0,0,0.5)" stroke-width="0.55" />
<rect x="542.75" y="479.17" width="3.13" height="12.23" fill="#0000f0" stroke="rgba(0,0,0,0.5)" stroke-width="0.55" />
<rect x="542.75" y="484.6" width="3.13" height="6.8" fill="#d200f0" stroke="rgba(0,0,0,0.5)" stroke-width="0.55" />
<rect x="542.75" y="488" width="3.13" height="3.4" fill="#8cf5fa" stroke="rgba(0,0,0,0.5)" stroke-width="0.55" />
<rect x="546.67" y="481.2" width="3.13" height="10.19" fill="#dc0000" stroke="rgba(0,0,0,0.5)" stroke-width="0.55" />
<rect x="546.67" y="484.6" width="3.13" height="6.8" fill="#d200f0" stroke="rgba(0,0,0,0.5)" stroke-width="0.55" />
<rect x="550.58" y="471.69" width="3.13" height="19.71" fill="#0000f0" stroke="rgba(0,0,0,0.5)" stroke-width="0.55" />
<rect x="550.58" y="483.24" width="3.13" height="8.16" fill="#dc0000" stroke="rgba(0,0,0,0.5)" stroke-width="0.55" />
<rect x="554.5" y="328.28" width="3.13" height="163.12" fill="#0000f0" stroke="rgba(0,0,0,0.5)" stroke-width="0.55" />
<rect x="554.5" y="481.88" width="3.13" height="9.52" fill="#dc0000" stroke="rgba(0,0,0,0.5)" stroke-width="0.55" />
<rect x="554.5" y="485.96" width="3.13" height="5.44" fill="#80f040" stroke="rgba(0,0,0,0.5)" stroke-width="0.55" />
<rect x="558.42" y="435.67" width="3.13" height="55.73" fill="#dc0000" stroke="rgba(0,0,0,0.5)" stroke-width="0.55" />
<rect x="558.42" y="474.41" width="3.13" height="16.99" fill="#d200f0" stroke="rgba(0,0,0,0.5)" stroke-width="0.55" />
<rect x="558.42" y="477.81" width="3.13" height="13.59" fill="#80f040" stroke="rgba(0,0,0,0.5)" stroke-width="0.55" />
<rect x="558.42" y="484.6" width="3.13" height="6.8" fill="#8cf5fa" stroke="rgba(0,0,0,0.5)" stroke-width="0.55" />
<rect x="562.34" y="454.7" width="3.13" height="36.7" fill="#0000f0" stroke="rgba(0,0,0,0.5)" stroke-width="0.55" />
<rect x="562.34" y="477.81" width="3.13" height="13.59" fill="#dc0000" stroke="rgba(0,0,0,0.5)" stroke-width="0.55" />
<rect x="562.34" y="483.24" width="3.13" height="8.16" fill="#80f040" stroke="rgba(0,0,0,0.5)" stroke-width="0.55" />
<rect x="562.34" y="485.96" width="3.13" height="5.44" fill="#8cf5fa" stroke="rgba(0,0,0,0.5)" stroke-width="0.55" />
<rect x="566.25" y="437.71" width="3.13" height="53.69" fill="#0000f0" stroke="rgba(0,0,0,0.5)" stroke-width="0.55" />
<rect x="566.25" y="464.21" width="3.13" height="27.19" fill="#dc0000" stroke="rgba(0,0,0,0.5)" stroke-width="0.55" />
<rect x="566.25" y="466.93" width="3.13" height="24.47" fill="#80f040" stroke="rgba(0,0,0,0.5)" stroke-width="0.55" />
<rect x="566.25" y="477.81" width="3.13" height="13.59" fill="#8cf5fa" stroke="rgba(0,0,0,0.5)" stroke-width="0.55" />
<rect x="570.17" y="467.61" width="3.13" height="23.79" fill="#dc0000" stroke="rgba(0,0,0,0.5)" stroke-width="0.55" />
<rect x="570.17" y="471.01" width="3.13" height="20.39" fill="#80f040" stroke="rgba(0,0,0,0.5)" stroke-width="0.55" />
<rect x="570.17" y="484.6" width="3.13" height="6.8" fill="#8cf5fa" stroke="rgba(0,0,0,0.5)" stroke-width="0.55" />
<rect x="574.09" y="393.53" width="3.13" height="97.87" fill="#0000f0" stroke="rgba(0,0,0,0.5)" stroke-width="0.55" />
<rect x="574.09" y="467.61" width="3.13" height="23.79" fill="#dc0000" stroke="rgba(0,0,0,0.5)" stroke-width="0.55" />
<rect x="574.09" y="471.01" width="3.13" height="20.39" fill="#80f040" stroke="rgba(0,0,0,0.5)" stroke-width="0.55" />
<rect x="574.09" y="484.6" width="3.13" height="6.8" fill="#8cf5fa" stroke="rgba(0,0,0,0.5)" stroke-width="0.55" />
<rect x="578" y="365.66" width="3.13" height="125.74" fill="#0000f0" stroke="rgba(0,0,0,0.5)" stroke-width="0.55" />
<rect x="578" y="445.86" width="3.13" height="45.54" fill="#dc0000" stroke="rgba(0,0,0,0.5)" stroke-width="0.55" />
<rect x="578" y="457.42" width="3.13" height="33.98" fill="#d200f0" stroke="rgba(0,0,0,0.5)" stroke-width="0.55" />
<rect x="578" y="467.61" width="3.13" height="23.79" fill="#80f040" stroke="rgba(0,0,0,0.5)" stroke-width="0.55" />
<rect x="578" y="469.65" width="3.13" height="21.75" fill="#8cf5fa" stroke="rgba(0,0,0,0.5)" stroke-width="0.55" />
<rect x="581.92" y="333.04" width="3.13" height="158.36" fill="#dc0000" stroke="rgba(0,0,0,0.5)" stroke-width="0.55" />
<rect x="581.92" y="442.46" width="3.13" height="48.94" fill="#80f040" stroke="rgba(0,0,0,0.5)" stroke-width="0.55" />
<rect x="581.92" y="446.54" width="3.13" height="44.86" fill="#d200f0" stroke="rgba(0,0,0,0.5)" stroke-width="0.55" />
<rect x="581.92" y="469.65" width="3.13" height="21.75" fill="#8cf5fa" stroke="rgba(0,0,0,0.5)" stroke-width="0.55" />
<rect x="585.84" y="427.51" width="3.13" height="63.89" fill="#dc0000" stroke="rgba(0,0,0,0.5)" stroke-width="0.55" />
<rect x="585.84" y="469.65" width="3.13" height="21.75" fill="#8cf5fa" stroke="rgba(0,0,0,0.5)" stroke-width="0.55" />
<rect x="589.76" y="456.74" width="3.13" height="34.66" fill="#80f040" stroke="rgba(0,0,0,0.5)" stroke-width="0.55" />
<rect x="589.76" y="459.46" width="3.13" height="31.94" fill="#d200f0" stroke="rgba(0,0,0,0.5)" stroke-width="0.55" />
<rect x="589.76" y="474.41" width="3.13" height="16.99" fill="#8cf5fa" stroke="rgba(0,0,0,0.5)" stroke-width="0.55" />
<rect x="593.67" y="379.93" width="3.13" height="111.47" fill="#dc0000" stroke="rgba(0,0,0,0.5)" stroke-width="0.55" />
<rect x="593.67" y="457.42" width="3.13" height="33.98" fill="#80f040" stroke="rgba(0,0,0,0.5)" stroke-width="0.55" />
<rect x="593.67" y="457.42" width="3.13" height="33.98" fill="#8cf5fa" stroke="rgba(0,0,0,0.5)" stroke-width="0.55" />
<rect x="597.59" y="457.42" width="3.13" height="33.98" fill="#d200f0" stroke="rgba(0,0,0,0.5)" stroke-width="0.55" />
<rect x="601.51" y="355.47" width="3.13" height="135.93" fill="#d200f0" stroke="rgba(0,0,0,0.5)" stroke-width="0.55" />
<rect x="609.34" y="423.43" width="3.13" height="67.97" fill="#8cf5fa" stroke="rgba(0,0,0,0.5)" stroke-width="0.55" />
<rect x="613.26" y="300.41" width="3.13" height="190.99" fill="#80f040" stroke="rgba(0,0,0,0.5)" stroke-width="0.55" />
<rect x="617.18" y="423.43" width="3.13" height="67.97" fill="#8cf5fa" stroke="rgba(0,0,0,0.5)" stroke-width="0.55" />
<rect x="632.84" y="423.43" width="3.13" height="67.97" fill="#8cf5fa" stroke="rgba(0,0,0,0.5)" stroke-width="0.55" />
<rect x="553.72" y="321.48" width="28.2" height="169.92" fill="rgba(110,225,60,0.36)" stroke="#8a9a80" stroke-width="0.8" />
<line x1="403.3" y1="491.4" x2="403.3" y2="488.2" stroke="#262626" stroke-width="1.45" />
<line x1="403.3" y1="287.5" x2="403.3" y2="290.7" stroke="#262626" stroke-width="1.45" />
<line x1="442.47" y1="491.4" x2="442.47" y2="488.2" stroke="#262626" stroke-width="1.45" />
<line x1="442.47" y1="287.5" x2="442.47" y2="290.7" stroke="#262626" stroke-width="1.45" />
<line x1="481.64" y1="491.4" x2="481.64" y2="488.2" stroke="#262626" stroke-width="1.45" />
<line x1="481.64" y1="287.5" x2="481.64" y2="290.7" stroke="#262626" stroke-width="1.45" />
<line x1="520.81" y1="491.4" x2="520.81" y2="488.2" stroke="#262626" stroke-width="1.45" />
<line x1="520.81" y1="287.5" x2="520.81" y2="290.7" stroke="#262626" stroke-width="1.45" />
<line x1="559.99" y1="491.4" x2="559.99" y2="488.2" stroke="#262626" stroke-width="1.45" />
<line x1="559.99" y1="287.5" x2="559.99" y2="290.7" stroke="#262626" stroke-width="1.45" />
<line x1="599.16" y1="491.4" x2="599.16" y2="488.2" stroke="#262626" stroke-width="1.45" />
<line x1="599.16" y1="287.5" x2="599.16" y2="290.7" stroke="#262626" stroke-width="1.45" />
<line x1="638.33" y1="491.4" x2="638.33" y2="488.2" stroke="#262626" stroke-width="1.45" />
<line x1="638.33" y1="287.5" x2="638.33" y2="290.7" stroke="#262626" stroke-width="1.45" />
<line x1="677.5" y1="491.4" x2="677.5" y2="488.2" stroke="#262626" stroke-width="1.45" />
<line x1="677.5" y1="287.5" x2="677.5" y2="290.7" stroke="#262626" stroke-width="1.45" />
<line x1="403.3" y1="491.4" x2="406.5" y2="491.4" stroke="#262626" stroke-width="1.45" />
<line x1="677.5" y1="491.4" x2="674.3" y2="491.4" stroke="#262626" stroke-width="1.45" />
<line x1="403.3" y1="457.42" x2="406.5" y2="457.42" stroke="#262626" stroke-width="1.45" />
<line x1="677.5" y1="457.42" x2="674.3" y2="457.42" stroke="#262626" stroke-width="1.45" />
<line x1="403.3" y1="423.43" x2="406.5" y2="423.43" stroke="#262626" stroke-width="1.45" />
<line x1="677.5" y1="423.43" x2="674.3" y2="423.43" stroke="#262626" stroke-width="1.45" />
<line x1="403.3" y1="389.45" x2="406.5" y2="389.45" stroke="#262626" stroke-width="1.45" />
<line x1="677.5" y1="389.45" x2="674.3" y2="389.45" stroke="#262626" stroke-width="1.45" />
<line x1="403.3" y1="355.47" x2="406.5" y2="355.47" stroke="#262626" stroke-width="1.45" />
<line x1="677.5" y1="355.47" x2="674.3" y2="355.47" stroke="#262626" stroke-width="1.45" />
<line x1="403.3" y1="321.48" x2="406.5" y2="321.48" stroke="#262626" stroke-width="1.45" />
<line x1="677.5" y1="321.48" x2="674.3" y2="321.48" stroke="#262626" stroke-width="1.45" />
<line x1="403.3" y1="287.5" x2="406.5" y2="287.5" stroke="#262626" stroke-width="1.45" />
<line x1="677.5" y1="287.5" x2="674.3" y2="287.5" stroke="#262626" stroke-width="1.45" />
<rect x="403.3" y="287.5" width="274.2" height="203.9" fill="none" stroke="#262626" stroke-width="1.45" />
<text x="403.3" y="507.8" font-size="12" text-anchor="middle" font-weight="bold" fill="#262626" stroke="#262626" stroke-width="0.3" font-family='"Liberation Sans", sans-serif' >0</text>
<text x="442.47" y="507.8" font-size="12" text-anchor="middle" font-weight="bold" fill="#262626" stroke="#262626" stroke-width="0.3" font-family='"Liberation Sans", sans-serif' >10</text>
<text x="481.64" y="507.8" font-size="12" text-anchor="middle" font-weight="bold" fill="#262626" stroke="#262626" stroke-width="0.3" font-family='"Liberation Sans", sans-serif' >20</text>
<text x="520.81" y="507.8" font-size="12" text-anchor="middle" font-weight="bold" fill="#262626" stroke="#262626" stroke-width="0.3" font-family='"Liberation Sans", sans-serif' >30</text>
<text x="559.99" y="507.8" font-size="12" text-anchor="middle" font-weight="bold" fill="#262626" stroke="#262626" stroke-width="0.3" font-family='"Liberation Sans", sans-serif' >40</text>
<text x="599.16" y="507.8" font-size="12" text-anchor="middle" font-weight="bold" fill="#262626" stroke="#262626" stroke-width="0.3" font-family='"Liberation Sans", sans-serif' >50</text>
<text x="638.33" y="507.8" font-size="12" text-anchor="middle" font-weight="bold" fill="#262626" stroke="#262626" stroke-width="0.3" font-family='"Liberation Sans", sans-serif' >60</text>
<text x="677.5" y="507.8" font-size="12" text-anchor="middle" font-weight="bold" fill="#262626" stroke="#262626" stroke-width="0.3" font-family='"Liberation Sans", sans-serif' >70</text>
<text x="398.9" y="496.2" font-size="12" text-anchor="end" font-weight="bold" fill="#262626" stroke="#262626" stroke-width="0.3" font-family='"Liberation Sans", sans-serif' >0</text>
<text x="398.9" y="462.22" font-size="12" text-anchor="end" font-weight="bold" fill="#262626" stroke="#262626" stroke-width="0.3" font-family='"Liberation Sans", sans-serif' >0.5</text>
<text x="398.9" y="428.23" font-size="12" text-anchor="end" font-weight="bold" fill="#262626" stroke="#262626" stroke-width="0.3" font-family='"Liberation Sans", sans-serif' >1</text>
<text x="398.9" y="394.25" font-size="12" text-anchor="end" font-weight="bold" fill="#262626" stroke="#262626" stroke-width="0.3" font-family='"Liberation Sans", sans-serif' >1.5</text>
<text x="398.9" y="360.27" font-size="12" text-anchor="end" font-weight="bold" fill="#262626" stroke="#262626" stroke-width="0.3" font-family='"Liberation Sans", sans-serif' >2</text>
<text x="398.9" y="326.28" font-size="12" text-anchor="end" font-weight="bold" fill="#262626" stroke="#262626" stroke-width="0.3" font-family='"Liberation Sans", sans-serif' >2.5</text>
<text x="398.9" y="292.3" font-size="12" text-anchor="end" font-weight="bold" fill="#262626" stroke="#262626" stroke-width="0.3" font-family='"Liberation Sans", sans-serif' >3</text>
<text x="540.4" y="281.8" font-size="13.6" text-anchor="middle" font-weight="bold" fill="#111" stroke="#111" stroke-width="0.3" font-family='"Liberation Sans", sans-serif' >(d)</text>
<text x="540.4" y="526.5" font-size="13" text-anchor="middle" font-weight="bold" fill="#111" stroke="#111" stroke-width="0.3" font-family='"Liberation Sans", sans-serif' >k</text>
<text x="377.2" y="389.7" font-size="13" text-anchor="middle" font-weight="bold" fill="#111" stroke="#111" stroke-width="0.3" font-family='"Liberation Sans", sans-serif' transform="rotate(-90 377.2 389.7)">E(k)</text>
<rect x="621.3" y="293.3" width="49.5" height="77.1" fill="#fff" stroke="#262626" stroke-width="1.3" />
<rect x="623.3" y="296.1" width="18.9" height="11.3" fill="#0000f0" stroke="#555" stroke-width="0.6" />
<text x="644" y="305.9" font-size="11" text-anchor="start" font-weight="bold" fill="#111" stroke="#111" stroke-width="0.3" font-family='"Liberation Sans", sans-serif' >1000</text>
<rect x="623.3" y="311.1" width="18.9" height="11.3" fill="#dc0000" stroke="#555" stroke-width="0.6" />
<text x="644" y="320.9" font-size="11" text-anchor="start" font-weight="bold" fill="#111" stroke="#111" stroke-width="0.3" font-family='"Liberation Sans", sans-serif' >2000</text>
<rect x="623.3" y="326.1" width="18.9" height="11.3" fill="#80f040" stroke="#555" stroke-width="0.6" />
<text x="644" y="335.9" font-size="11" text-anchor="start" font-weight="bold" fill="#111" stroke="#111" stroke-width="0.3" font-family='"Liberation Sans", sans-serif' >3000</text>
<rect x="623.3" y="341.1" width="18.9" height="11.3" fill="#d200f0" stroke="#555" stroke-width="0.6" />
<text x="644" y="350.9" font-size="11" text-anchor="start" font-weight="bold" fill="#111" stroke="#111" stroke-width="0.3" font-family='"Liberation Sans", sans-serif' >4000</text>
<rect x="623.3" y="356.1" width="18.9" height="11.3" fill="#8cf5fa" stroke="#555" stroke-width="0.6" />
<text x="644" y="365.9" font-size="11" text-anchor="start" font-weight="bold" fill="#111" stroke="#111" stroke-width="0.3" font-family='"Liberation Sans", sans-serif' >5000</text>
<text x="530" y="428.8" font-size="19" text-anchor="start" font-weight="normal" fill="#c83030" font-family='"Liberation Serif", serif' font-style="italic">k</text>
<text x="538.3" y="431.8" font-size="13" text-anchor="start" font-weight="normal" fill="#c83030" font-family='"Liberation Serif", serif' >0</text>
<rect x="438.9" y="316.4" width="84.1" height="55.2" fill="#fff" stroke="none" stroke-width="1.0" />
<line x1="438.9" y1="316.4" x2="523" y2="316.4" stroke="#111" stroke-width="1.1" />
<line x1="438.9" y1="371.6" x2="523" y2="371.6" stroke="#111" stroke-width="1.1" />
<line x1="438.9" y1="371.6" x2="438.9" y2="369.6" stroke="#111" stroke-width="1" />
<line x1="438.9" y1="316.4" x2="438.9" y2="318.4" stroke="#111" stroke-width="1" />
<line x1="459.92" y1="371.6" x2="459.92" y2="369.6" stroke="#111" stroke-width="1" />
<line x1="459.92" y1="316.4" x2="459.92" y2="318.4" stroke="#111" stroke-width="1" />
<line x1="480.95" y1="371.6" x2="480.95" y2="369.6" stroke="#111" stroke-width="1" />
<line x1="480.95" y1="316.4" x2="480.95" y2="318.4" stroke="#111" stroke-width="1" />
<line x1="501.98" y1="371.6" x2="501.98" y2="369.6" stroke="#111" stroke-width="1" />
<line x1="501.98" y1="316.4" x2="501.98" y2="318.4" stroke="#111" stroke-width="1" />
<line x1="523" y1="371.6" x2="523" y2="369.6" stroke="#111" stroke-width="1" />
<line x1="523" y1="316.4" x2="523" y2="318.4" stroke="#111" stroke-width="1" />
<path d="M438.9 330.2 L459.92 337.51 L480.95 346.76 L501.98 350.49 L523 352.69" fill="none" stroke="#4a7cbc" stroke-width="1.1"/>
<path d="M438.9 349.52 L459.92 344 L480.95 332.96 L501.98 316.4 L523 316.4" fill="none" stroke="#c8642c" stroke-width="1.1"/>
<circle cx="438.9" cy="330.2" r="3.9" fill="none" stroke="#4a7cbc" stroke-width="0.9"/>
<circle cx="459.92" cy="337.51" r="3.9" fill="none" stroke="#4a7cbc" stroke-width="0.9"/>
<circle cx="480.95" cy="346.76" r="3.9" fill="none" stroke="#4a7cbc" stroke-width="0.9"/>
<circle cx="501.98" cy="350.49" r="3.9" fill="none" stroke="#4a7cbc" stroke-width="0.9"/>
<circle cx="523" cy="352.69" r="3.9" fill="none" stroke="#4a7cbc" stroke-width="0.9"/>
<path d="M438.9 344.52L442.8 349.52L438.9 354.52L435 349.52Z" fill="none" stroke="#c05a2a" stroke-width="0.9"/>
<path d="M459.92 339L463.82 344L459.92 349L456.02 344Z" fill="none" stroke="#c05a2a" stroke-width="0.9"/>
<path d="M480.95 327.96L484.85 332.96L480.95 337.96L477.05 332.96Z" fill="none" stroke="#c05a2a" stroke-width="0.9"/>
<path d="M501.98 311.4L505.88 316.4L501.98 321.4L498.08 316.4Z" fill="none" stroke="#c05a2a" stroke-width="0.9"/>
<path d="M523 311.4L526.9 316.4L523 321.4L519.1 316.4Z" fill="none" stroke="#c05a2a" stroke-width="0.9"/>
<line x1="438.9" y1="316.4" x2="438.9" y2="371.6" stroke="#3030c4" stroke-width="1.4" />
<line x1="438.9" y1="371.6" x2="440.9" y2="371.6" stroke="#3030c4" stroke-width="1" />
<line x1="438.9" y1="344" x2="440.9" y2="344" stroke="#3030c4" stroke-width="1" />
<line x1="438.9" y1="316.4" x2="440.9" y2="316.4" stroke="#3030c4" stroke-width="1" />
<text x="435.4" y="375.1" font-size="9.8" text-anchor="end" font-weight="bold" fill="#2222b4" stroke="#2222b4" stroke-width="0.3" font-family='"Liberation Sans", sans-serif' >0</text>
<text x="435.4" y="347.5" font-size="9.8" text-anchor="end" font-weight="bold" fill="#2222b4" stroke="#2222b4" stroke-width="0.3" font-family='"Liberation Sans", sans-serif' >0.2</text>
<text x="435.4" y="319.9" font-size="9.8" text-anchor="end" font-weight="bold" fill="#2222b4" stroke="#2222b4" stroke-width="0.3" font-family='"Liberation Sans", sans-serif' >0.4</text>
<line x1="523" y1="316.4" x2="523" y2="371.6" stroke="#d02020" stroke-width="1.3" />
<line x1="523" y1="371.6" x2="521" y2="371.6" stroke="#d02020" stroke-width="1" />
<line x1="523" y1="344" x2="521" y2="344" stroke="#d02020" stroke-width="1" />
<line x1="523" y1="316.4" x2="521" y2="316.4" stroke="#d02020" stroke-width="1" />
<text x="526.5" y="375.1" font-size="9.8" text-anchor="start" font-weight="bold" fill="#d02a2a" stroke="#d02a2a" stroke-width="0.3" font-family='"Liberation Sans", sans-serif' >35</text>
<text x="526.5" y="347.5" font-size="9.8" text-anchor="start" font-weight="bold" fill="#d02a2a" stroke="#d02a2a" stroke-width="0.3" font-family='"Liberation Sans", sans-serif' >40</text>
<text x="526.5" y="319.9" font-size="9.8" text-anchor="start" font-weight="bold" fill="#d02a2a" stroke="#d02a2a" stroke-width="0.3" font-family='"Liberation Sans", sans-serif' >45</text>
<text x="438.9" y="385.4" font-size="9.5" text-anchor="middle" font-weight="bold" fill="#111" stroke="#111" stroke-width="0.3" font-family='"Liberation Sans", sans-serif' ></text>
<text x="459.92" y="385.4" font-size="9.5" text-anchor="middle" font-weight="bold" fill="#111" stroke="#111" stroke-width="0.3" font-family='"Liberation Sans", sans-serif' >2000</text>
<text x="480.95" y="385.4" font-size="9.5" text-anchor="middle" font-weight="bold" fill="#111" stroke="#111" stroke-width="0.3" font-family='"Liberation Sans", sans-serif' ></text>
<text x="501.98" y="385.4" font-size="9.5" text-anchor="middle" font-weight="bold" fill="#111" stroke="#111" stroke-width="0.3" font-family='"Liberation Sans", sans-serif' >4000</text>
<text x="523" y="385.4" font-size="9.5" text-anchor="middle" font-weight="bold" fill="#111" stroke="#111" stroke-width="0.3" font-family='"Liberation Sans", sans-serif' ></text>
<text x="480.95" y="399" font-size="10" text-anchor="middle" font-weight="bold" fill="#111" stroke="#111" stroke-width="0.3" font-family='"Liberation Sans", sans-serif' >N</text>
<text x="418.2" y="343.8" font-size="10" text-anchor="middle" font-weight="bold" fill="#2222b4" stroke="#2222b4" stroke-width="0.3" font-family='"Liberation Sans", sans-serif' transform="rotate(-90 418.2 343.8)">ME</text>
<text x="549.6" y="344.6" font-size="9.8" text-anchor="middle" font-weight="bold" fill="#d02a2a" stroke="#d02a2a" stroke-width="0.3" font-family='"Liberation Sans", sans-serif' transform="rotate(-90 549.6 344.6)">k<tspan font-size="6.8" dx="0.6" dy="4.8">0</tspan></text>
</svg></body></html>
